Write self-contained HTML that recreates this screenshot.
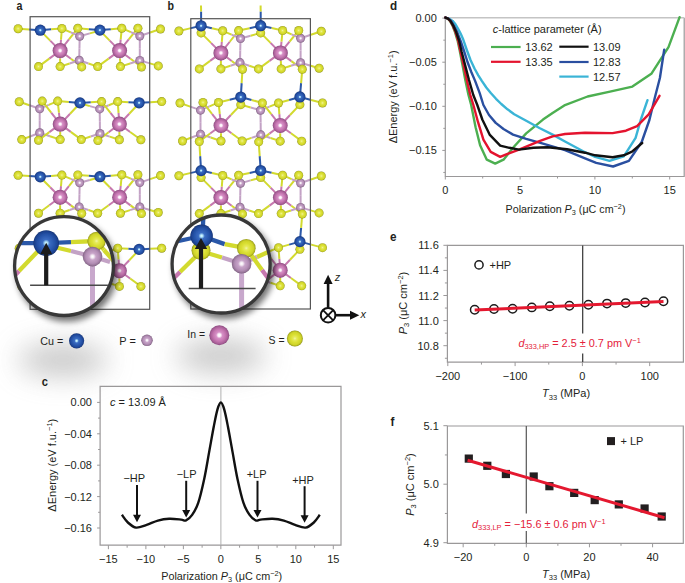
<!DOCTYPE html>
<html><head><meta charset="utf-8"><style>
html,body{margin:0;padding:0;background:#fff;}
svg{display:block;font-family:'Liberation Sans', sans-serif;}
</style></head><body>
<svg width="685" height="583" viewBox="0 0 685 583" font-family="'Liberation Sans', sans-serif" fill="#231f20">
<rect width="685" height="583" fill="#fff"/>
<defs>
<radialGradient id="gCu" cx="50%" cy="50%" r="50%" fx="50%" fy="50%"><stop offset="0" stop-color="#e4ffff"/><stop offset="0.1" stop-color="#b4e6fa"/><stop offset="0.28" stop-color="#3a6cc2"/><stop offset="0.7" stop-color="#2451a6"/><stop offset="0.9" stop-color="#1c4290"/><stop offset="1" stop-color="#153372"/></radialGradient>
<radialGradient id="gS" cx="50%" cy="50%" r="50%" fx="50%" fy="50%"><stop offset="0" stop-color="#f2f4a8"/><stop offset="0.2" stop-color="#e6ea5c"/><stop offset="0.5" stop-color="#dbe034"/><stop offset="0.78" stop-color="#cfd42a"/><stop offset="0.92" stop-color="#b0b420"/><stop offset="1" stop-color="#8a8e18"/></radialGradient>
<radialGradient id="gIn" cx="50%" cy="50%" r="50%" fx="50%" fy="50%"><stop offset="0" stop-color="#ffffff"/><stop offset="0.14" stop-color="#fdf3fa"/><stop offset="0.32" stop-color="#d690c6"/><stop offset="0.6" stop-color="#c677b1"/><stop offset="0.85" stop-color="#a95f98"/><stop offset="1" stop-color="#8a4a7e"/></radialGradient>
<radialGradient id="gP" cx="50%" cy="50%" r="50%" fx="50%" fy="50%"><stop offset="0" stop-color="#ffffff"/><stop offset="0.15" stop-color="#f4ecf4"/><stop offset="0.35" stop-color="#c8a4c9"/><stop offset="0.7" stop-color="#b38eb5"/><stop offset="0.9" stop-color="#977599"/><stop offset="1" stop-color="#7a5d7d"/></radialGradient>
<filter id="soft" x="-10%" y="-10%" width="120%" height="120%"><feGaussianBlur stdDeviation="0.45"/></filter>
<filter id="blur3" x="-50%" y="-50%" width="200%" height="200%"><feGaussianBlur stdDeviation="3"/></filter>
<filter id="blurBig" x="-100%" y="-100%" width="300%" height="300%"><feGaussianBlur stdDeviation="14"/></filter>
<clipPath id="clipA"><circle cx="64" cy="266.1" r="49.4"/></clipPath>
<clipPath id="clipB"><circle cx="221.1" cy="264" r="49"/></clipPath>
</defs>
<ellipse cx="63" cy="360" rx="45" ry="16" fill="#9a9a9a" opacity="0.55" filter="url(#blurBig)"/>
<ellipse cx="221" cy="356" rx="45" ry="16" fill="#9a9a9a" opacity="0.55" filter="url(#blurBig)"/>
<line x1="18.10" y1="28.70" x2="29.20" y2="29.45" stroke="#d2da2e" stroke-width="2.0" />
<line x1="29.20" y1="29.45" x2="40.30" y2="30.20" stroke="#2c58a8" stroke-width="2.0" />
<line x1="40.30" y1="30.20" x2="51.10" y2="29.35" stroke="#2c58a8" stroke-width="2.0" />
<line x1="51.10" y1="29.35" x2="61.90" y2="28.50" stroke="#d2da2e" stroke-width="2.0" />
<line x1="77.80" y1="28.30" x2="88.85" y2="29.20" stroke="#d2da2e" stroke-width="2.0" />
<line x1="88.85" y1="29.20" x2="99.90" y2="30.10" stroke="#2c58a8" stroke-width="2.0" />
<line x1="99.90" y1="30.10" x2="110.85" y2="29.15" stroke="#2c58a8" stroke-width="2.0" />
<line x1="110.85" y1="29.15" x2="121.80" y2="28.20" stroke="#d2da2e" stroke-width="2.0" />
<line x1="60.10" y1="50.60" x2="50.20" y2="40.60" stroke="#c678ae" stroke-width="2.0" />
<line x1="50.20" y1="40.60" x2="40.30" y2="30.60" stroke="#d2da2e" stroke-width="2.0" />
<line x1="60.10" y1="50.60" x2="61.00" y2="39.55" stroke="#c678ae" stroke-width="2.0" />
<line x1="61.00" y1="39.55" x2="61.90" y2="28.50" stroke="#d2da2e" stroke-width="2.0" />
<line x1="60.10" y1="50.60" x2="68.95" y2="39.45" stroke="#c678ae" stroke-width="2.0" />
<line x1="68.95" y1="39.45" x2="77.80" y2="28.30" stroke="#d2da2e" stroke-width="2.0" />
<line x1="60.10" y1="50.60" x2="49.30" y2="58.60" stroke="#c678ae" stroke-width="2.0" />
<line x1="49.30" y1="58.60" x2="38.50" y2="66.60" stroke="#d2da2e" stroke-width="2.0" />
<line x1="60.10" y1="50.60" x2="60.10" y2="58.60" stroke="#c678ae" stroke-width="2.0" />
<line x1="60.10" y1="58.60" x2="60.10" y2="66.60" stroke="#d2da2e" stroke-width="2.0" />
<line x1="60.10" y1="50.60" x2="70.90" y2="58.75" stroke="#c678ae" stroke-width="2.0" />
<line x1="70.90" y1="58.75" x2="81.70" y2="66.90" stroke="#d2da2e" stroke-width="2.0" />
<line x1="79.70" y1="36.20" x2="70.80" y2="32.35" stroke="#c3a2c5" stroke-width="2.0" />
<line x1="70.80" y1="32.35" x2="61.90" y2="28.50" stroke="#d2da2e" stroke-width="2.0" />
<line x1="79.70" y1="36.20" x2="78.75" y2="32.25" stroke="#c3a2c5" stroke-width="2.0" />
<line x1="78.75" y1="32.25" x2="77.80" y2="28.30" stroke="#d2da2e" stroke-width="2.0" />
<line x1="79.70" y1="36.20" x2="89.80" y2="33.40" stroke="#c3a2c5" stroke-width="2.0" />
<line x1="89.80" y1="33.40" x2="99.90" y2="30.60" stroke="#d2da2e" stroke-width="2.0" />
<line x1="79.70" y1="36.20" x2="79.45" y2="48.25" stroke="#c3a2c5" stroke-width="2.0" />
<line x1="79.45" y1="48.25" x2="79.20" y2="60.30" stroke="#c3a2c5" stroke-width="2.0" />
<line x1="79.20" y1="60.30" x2="69.65" y2="63.45" stroke="#c3a2c5" stroke-width="2.0" />
<line x1="69.65" y1="63.45" x2="60.10" y2="66.60" stroke="#d2da2e" stroke-width="2.0" />
<line x1="79.20" y1="60.30" x2="80.45" y2="63.60" stroke="#c3a2c5" stroke-width="2.0" />
<line x1="80.45" y1="63.60" x2="81.70" y2="66.90" stroke="#d2da2e" stroke-width="2.0" />
<line x1="79.20" y1="60.30" x2="88.45" y2="63.45" stroke="#c3a2c5" stroke-width="2.0" />
<line x1="88.45" y1="63.45" x2="97.70" y2="66.60" stroke="#d2da2e" stroke-width="2.0" />
<line x1="119.60" y1="50.60" x2="109.75" y2="40.60" stroke="#c678ae" stroke-width="2.0" />
<line x1="109.75" y1="40.60" x2="99.90" y2="30.60" stroke="#d2da2e" stroke-width="2.0" />
<line x1="119.60" y1="50.60" x2="120.70" y2="39.40" stroke="#c678ae" stroke-width="2.0" />
<line x1="120.70" y1="39.40" x2="121.80" y2="28.20" stroke="#d2da2e" stroke-width="2.0" />
<line x1="119.60" y1="50.60" x2="128.75" y2="39.40" stroke="#c678ae" stroke-width="2.0" />
<line x1="128.75" y1="39.40" x2="137.90" y2="28.20" stroke="#d2da2e" stroke-width="2.0" />
<line x1="119.60" y1="50.60" x2="108.65" y2="58.60" stroke="#c678ae" stroke-width="2.0" />
<line x1="108.65" y1="58.60" x2="97.70" y2="66.60" stroke="#d2da2e" stroke-width="2.0" />
<line x1="119.60" y1="50.60" x2="120.00" y2="58.60" stroke="#c678ae" stroke-width="2.0" />
<line x1="120.00" y1="58.60" x2="120.40" y2="66.60" stroke="#d2da2e" stroke-width="2.0" />
<line x1="119.60" y1="50.60" x2="130.55" y2="58.80" stroke="#c678ae" stroke-width="2.0" />
<line x1="130.55" y1="58.80" x2="141.50" y2="67.00" stroke="#d2da2e" stroke-width="2.0" />
<line x1="139.80" y1="36.00" x2="130.80" y2="32.10" stroke="#c3a2c5" stroke-width="2.0" />
<line x1="130.80" y1="32.10" x2="121.80" y2="28.20" stroke="#d2da2e" stroke-width="2.0" />
<line x1="139.80" y1="36.00" x2="138.85" y2="32.10" stroke="#c3a2c5" stroke-width="2.0" />
<line x1="138.85" y1="32.10" x2="137.90" y2="28.20" stroke="#d2da2e" stroke-width="2.0" />
<line x1="139.80" y1="36.00" x2="150.15" y2="32.50" stroke="#c3a2c5" stroke-width="2.0" />
<line x1="150.15" y1="32.50" x2="160.50" y2="29.00" stroke="#d2da2e" stroke-width="2.0" />
<line x1="139.80" y1="36.00" x2="139.80" y2="48.20" stroke="#c3a2c5" stroke-width="2.0" />
<line x1="139.80" y1="48.20" x2="139.80" y2="60.40" stroke="#c3a2c5" stroke-width="2.0" />
<line x1="139.80" y1="60.40" x2="130.10" y2="63.50" stroke="#c3a2c5" stroke-width="2.0" />
<line x1="130.10" y1="63.50" x2="120.40" y2="66.60" stroke="#d2da2e" stroke-width="2.0" />
<line x1="139.80" y1="60.40" x2="140.65" y2="63.70" stroke="#c3a2c5" stroke-width="2.0" />
<line x1="140.65" y1="63.70" x2="141.50" y2="67.00" stroke="#d2da2e" stroke-width="2.0" />
<line x1="139.80" y1="60.40" x2="149.05" y2="63.15" stroke="#c3a2c5" stroke-width="2.0" />
<line x1="149.05" y1="63.15" x2="158.30" y2="65.90" stroke="#d2da2e" stroke-width="2.0" />
<line x1="19.20" y1="101.70" x2="29.45" y2="105.25" stroke="#d2da2e" stroke-width="2.0" />
<line x1="29.45" y1="105.25" x2="39.70" y2="108.80" stroke="#c3a2c5" stroke-width="2.0" />
<line x1="39.70" y1="108.80" x2="40.95" y2="104.95" stroke="#c3a2c5" stroke-width="2.0" />
<line x1="40.95" y1="104.95" x2="42.20" y2="101.10" stroke="#d2da2e" stroke-width="2.0" />
<line x1="39.70" y1="108.80" x2="48.70" y2="104.95" stroke="#c3a2c5" stroke-width="2.0" />
<line x1="48.70" y1="104.95" x2="57.70" y2="101.10" stroke="#d2da2e" stroke-width="2.0" />
<line x1="39.70" y1="108.80" x2="39.70" y2="120.80" stroke="#c3a2c5" stroke-width="2.0" />
<line x1="39.70" y1="120.80" x2="39.70" y2="132.80" stroke="#c3a2c5" stroke-width="2.0" />
<line x1="39.70" y1="132.80" x2="30.70" y2="136.20" stroke="#c3a2c5" stroke-width="2.0" />
<line x1="30.70" y1="136.20" x2="21.70" y2="139.60" stroke="#d2da2e" stroke-width="2.0" />
<line x1="39.70" y1="132.80" x2="39.10" y2="136.50" stroke="#c3a2c5" stroke-width="2.0" />
<line x1="39.10" y1="136.50" x2="38.50" y2="140.20" stroke="#d2da2e" stroke-width="2.0" />
<line x1="39.70" y1="132.80" x2="49.95" y2="136.20" stroke="#c3a2c5" stroke-width="2.0" />
<line x1="49.95" y1="136.20" x2="60.20" y2="139.60" stroke="#d2da2e" stroke-width="2.0" />
<line x1="60.20" y1="124.10" x2="51.20" y2="112.60" stroke="#c678ae" stroke-width="2.0" />
<line x1="51.20" y1="112.60" x2="42.20" y2="101.10" stroke="#d2da2e" stroke-width="2.0" />
<line x1="60.20" y1="124.10" x2="58.95" y2="112.60" stroke="#c678ae" stroke-width="2.0" />
<line x1="58.95" y1="112.60" x2="57.70" y2="101.10" stroke="#d2da2e" stroke-width="2.0" />
<line x1="60.20" y1="124.10" x2="70.10" y2="113.70" stroke="#c678ae" stroke-width="2.0" />
<line x1="70.10" y1="113.70" x2="80.00" y2="103.30" stroke="#d2da2e" stroke-width="2.0" />
<line x1="60.20" y1="124.10" x2="49.35" y2="132.15" stroke="#c678ae" stroke-width="2.0" />
<line x1="49.35" y1="132.15" x2="38.50" y2="140.20" stroke="#d2da2e" stroke-width="2.0" />
<line x1="60.20" y1="124.10" x2="60.20" y2="131.85" stroke="#c678ae" stroke-width="2.0" />
<line x1="60.20" y1="131.85" x2="60.20" y2="139.60" stroke="#d2da2e" stroke-width="2.0" />
<line x1="60.20" y1="124.10" x2="70.75" y2="131.85" stroke="#c678ae" stroke-width="2.0" />
<line x1="70.75" y1="131.85" x2="81.30" y2="139.60" stroke="#d2da2e" stroke-width="2.0" />
<line x1="57.70" y1="101.10" x2="68.85" y2="102.00" stroke="#d2da2e" stroke-width="2.0" />
<line x1="68.85" y1="102.00" x2="80.00" y2="102.90" stroke="#2c58a8" stroke-width="2.0" />
<line x1="80.00" y1="102.90" x2="90.80" y2="102.25" stroke="#2c58a8" stroke-width="2.0" />
<line x1="90.80" y1="102.25" x2="101.60" y2="101.60" stroke="#d2da2e" stroke-width="2.0" />
<line x1="99.70" y1="108.90" x2="89.85" y2="106.10" stroke="#c3a2c5" stroke-width="2.0" />
<line x1="89.85" y1="106.10" x2="80.00" y2="103.30" stroke="#d2da2e" stroke-width="2.0" />
<line x1="99.70" y1="108.90" x2="100.65" y2="105.25" stroke="#c3a2c5" stroke-width="2.0" />
<line x1="100.65" y1="105.25" x2="101.60" y2="101.60" stroke="#d2da2e" stroke-width="2.0" />
<line x1="99.70" y1="108.90" x2="108.70" y2="105.25" stroke="#c3a2c5" stroke-width="2.0" />
<line x1="108.70" y1="105.25" x2="117.70" y2="101.60" stroke="#d2da2e" stroke-width="2.0" />
<line x1="99.70" y1="108.90" x2="99.85" y2="121.20" stroke="#c3a2c5" stroke-width="2.0" />
<line x1="99.85" y1="121.20" x2="100.00" y2="133.50" stroke="#c3a2c5" stroke-width="2.0" />
<line x1="100.00" y1="133.50" x2="90.65" y2="136.55" stroke="#c3a2c5" stroke-width="2.0" />
<line x1="90.65" y1="136.55" x2="81.30" y2="139.60" stroke="#d2da2e" stroke-width="2.0" />
<line x1="100.00" y1="133.50" x2="98.95" y2="137.00" stroke="#c3a2c5" stroke-width="2.0" />
<line x1="98.95" y1="137.00" x2="97.90" y2="140.50" stroke="#d2da2e" stroke-width="2.0" />
<line x1="100.00" y1="133.50" x2="109.70" y2="136.65" stroke="#c3a2c5" stroke-width="2.0" />
<line x1="109.70" y1="136.65" x2="119.40" y2="139.80" stroke="#d2da2e" stroke-width="2.0" />
<line x1="119.40" y1="124.10" x2="110.50" y2="112.85" stroke="#c678ae" stroke-width="2.0" />
<line x1="110.50" y1="112.85" x2="101.60" y2="101.60" stroke="#d2da2e" stroke-width="2.0" />
<line x1="119.40" y1="124.10" x2="118.55" y2="112.85" stroke="#c678ae" stroke-width="2.0" />
<line x1="118.55" y1="112.85" x2="117.70" y2="101.60" stroke="#d2da2e" stroke-width="2.0" />
<line x1="119.40" y1="124.10" x2="129.25" y2="113.70" stroke="#c678ae" stroke-width="2.0" />
<line x1="129.25" y1="113.70" x2="139.10" y2="103.30" stroke="#d2da2e" stroke-width="2.0" />
<line x1="119.40" y1="124.10" x2="108.65" y2="132.30" stroke="#c678ae" stroke-width="2.0" />
<line x1="108.65" y1="132.30" x2="97.90" y2="140.50" stroke="#d2da2e" stroke-width="2.0" />
<line x1="119.40" y1="124.10" x2="119.40" y2="131.95" stroke="#c678ae" stroke-width="2.0" />
<line x1="119.40" y1="131.95" x2="119.40" y2="139.80" stroke="#d2da2e" stroke-width="2.0" />
<line x1="119.40" y1="124.10" x2="130.15" y2="131.95" stroke="#c678ae" stroke-width="2.0" />
<line x1="130.15" y1="131.95" x2="140.90" y2="139.80" stroke="#d2da2e" stroke-width="2.0" />
<line x1="117.70" y1="101.60" x2="128.40" y2="102.20" stroke="#d2da2e" stroke-width="2.0" />
<line x1="128.40" y1="102.20" x2="139.10" y2="102.80" stroke="#2c58a8" stroke-width="2.0" />
<line x1="139.10" y1="102.80" x2="150.40" y2="102.20" stroke="#2c58a8" stroke-width="2.0" />
<line x1="150.40" y1="102.20" x2="161.70" y2="101.60" stroke="#d2da2e" stroke-width="2.0" />
<line x1="18.10" y1="175.30" x2="29.20" y2="176.05" stroke="#d2da2e" stroke-width="2.0" />
<line x1="29.20" y1="176.05" x2="40.30" y2="176.80" stroke="#2c58a8" stroke-width="2.0" />
<line x1="40.30" y1="176.80" x2="51.10" y2="175.95" stroke="#2c58a8" stroke-width="2.0" />
<line x1="51.10" y1="175.95" x2="61.90" y2="175.10" stroke="#d2da2e" stroke-width="2.0" />
<line x1="77.80" y1="174.90" x2="88.85" y2="175.80" stroke="#d2da2e" stroke-width="2.0" />
<line x1="88.85" y1="175.80" x2="99.90" y2="176.70" stroke="#2c58a8" stroke-width="2.0" />
<line x1="99.90" y1="176.70" x2="110.85" y2="175.75" stroke="#2c58a8" stroke-width="2.0" />
<line x1="110.85" y1="175.75" x2="121.80" y2="174.80" stroke="#d2da2e" stroke-width="2.0" />
<line x1="60.10" y1="197.20" x2="50.20" y2="187.20" stroke="#c678ae" stroke-width="2.0" />
<line x1="50.20" y1="187.20" x2="40.30" y2="177.20" stroke="#d2da2e" stroke-width="2.0" />
<line x1="60.10" y1="197.20" x2="61.00" y2="186.15" stroke="#c678ae" stroke-width="2.0" />
<line x1="61.00" y1="186.15" x2="61.90" y2="175.10" stroke="#d2da2e" stroke-width="2.0" />
<line x1="60.10" y1="197.20" x2="68.95" y2="186.05" stroke="#c678ae" stroke-width="2.0" />
<line x1="68.95" y1="186.05" x2="77.80" y2="174.90" stroke="#d2da2e" stroke-width="2.0" />
<line x1="60.10" y1="197.20" x2="49.30" y2="205.20" stroke="#c678ae" stroke-width="2.0" />
<line x1="49.30" y1="205.20" x2="38.50" y2="213.20" stroke="#d2da2e" stroke-width="2.0" />
<line x1="60.10" y1="197.20" x2="60.10" y2="205.20" stroke="#c678ae" stroke-width="2.0" />
<line x1="60.10" y1="205.20" x2="60.10" y2="213.20" stroke="#d2da2e" stroke-width="2.0" />
<line x1="60.10" y1="197.20" x2="70.90" y2="205.35" stroke="#c678ae" stroke-width="2.0" />
<line x1="70.90" y1="205.35" x2="81.70" y2="213.50" stroke="#d2da2e" stroke-width="2.0" />
<line x1="79.70" y1="182.80" x2="70.80" y2="178.95" stroke="#c3a2c5" stroke-width="2.0" />
<line x1="70.80" y1="178.95" x2="61.90" y2="175.10" stroke="#d2da2e" stroke-width="2.0" />
<line x1="79.70" y1="182.80" x2="78.75" y2="178.85" stroke="#c3a2c5" stroke-width="2.0" />
<line x1="78.75" y1="178.85" x2="77.80" y2="174.90" stroke="#d2da2e" stroke-width="2.0" />
<line x1="79.70" y1="182.80" x2="89.80" y2="180.00" stroke="#c3a2c5" stroke-width="2.0" />
<line x1="89.80" y1="180.00" x2="99.90" y2="177.20" stroke="#d2da2e" stroke-width="2.0" />
<line x1="79.70" y1="182.80" x2="79.45" y2="194.85" stroke="#c3a2c5" stroke-width="2.0" />
<line x1="79.45" y1="194.85" x2="79.20" y2="206.90" stroke="#c3a2c5" stroke-width="2.0" />
<line x1="79.20" y1="206.90" x2="69.65" y2="210.05" stroke="#c3a2c5" stroke-width="2.0" />
<line x1="69.65" y1="210.05" x2="60.10" y2="213.20" stroke="#d2da2e" stroke-width="2.0" />
<line x1="79.20" y1="206.90" x2="80.45" y2="210.20" stroke="#c3a2c5" stroke-width="2.0" />
<line x1="80.45" y1="210.20" x2="81.70" y2="213.50" stroke="#d2da2e" stroke-width="2.0" />
<line x1="79.20" y1="206.90" x2="88.45" y2="210.05" stroke="#c3a2c5" stroke-width="2.0" />
<line x1="88.45" y1="210.05" x2="97.70" y2="213.20" stroke="#d2da2e" stroke-width="2.0" />
<line x1="119.60" y1="197.20" x2="109.75" y2="187.20" stroke="#c678ae" stroke-width="2.0" />
<line x1="109.75" y1="187.20" x2="99.90" y2="177.20" stroke="#d2da2e" stroke-width="2.0" />
<line x1="119.60" y1="197.20" x2="120.70" y2="186.00" stroke="#c678ae" stroke-width="2.0" />
<line x1="120.70" y1="186.00" x2="121.80" y2="174.80" stroke="#d2da2e" stroke-width="2.0" />
<line x1="119.60" y1="197.20" x2="128.75" y2="186.00" stroke="#c678ae" stroke-width="2.0" />
<line x1="128.75" y1="186.00" x2="137.90" y2="174.80" stroke="#d2da2e" stroke-width="2.0" />
<line x1="119.60" y1="197.20" x2="108.65" y2="205.20" stroke="#c678ae" stroke-width="2.0" />
<line x1="108.65" y1="205.20" x2="97.70" y2="213.20" stroke="#d2da2e" stroke-width="2.0" />
<line x1="119.60" y1="197.20" x2="120.00" y2="205.20" stroke="#c678ae" stroke-width="2.0" />
<line x1="120.00" y1="205.20" x2="120.40" y2="213.20" stroke="#d2da2e" stroke-width="2.0" />
<line x1="119.60" y1="197.20" x2="130.55" y2="205.40" stroke="#c678ae" stroke-width="2.0" />
<line x1="130.55" y1="205.40" x2="141.50" y2="213.60" stroke="#d2da2e" stroke-width="2.0" />
<line x1="139.80" y1="182.60" x2="130.80" y2="178.70" stroke="#c3a2c5" stroke-width="2.0" />
<line x1="130.80" y1="178.70" x2="121.80" y2="174.80" stroke="#d2da2e" stroke-width="2.0" />
<line x1="139.80" y1="182.60" x2="138.85" y2="178.70" stroke="#c3a2c5" stroke-width="2.0" />
<line x1="138.85" y1="178.70" x2="137.90" y2="174.80" stroke="#d2da2e" stroke-width="2.0" />
<line x1="139.80" y1="182.60" x2="150.15" y2="179.10" stroke="#c3a2c5" stroke-width="2.0" />
<line x1="150.15" y1="179.10" x2="160.50" y2="175.60" stroke="#d2da2e" stroke-width="2.0" />
<line x1="139.80" y1="182.60" x2="139.80" y2="194.80" stroke="#c3a2c5" stroke-width="2.0" />
<line x1="139.80" y1="194.80" x2="139.80" y2="207.00" stroke="#c3a2c5" stroke-width="2.0" />
<line x1="139.80" y1="207.00" x2="130.10" y2="210.10" stroke="#c3a2c5" stroke-width="2.0" />
<line x1="130.10" y1="210.10" x2="120.40" y2="213.20" stroke="#d2da2e" stroke-width="2.0" />
<line x1="139.80" y1="207.00" x2="140.65" y2="210.30" stroke="#c3a2c5" stroke-width="2.0" />
<line x1="140.65" y1="210.30" x2="141.50" y2="213.60" stroke="#d2da2e" stroke-width="2.0" />
<line x1="139.80" y1="207.00" x2="149.05" y2="209.75" stroke="#c3a2c5" stroke-width="2.0" />
<line x1="149.05" y1="209.75" x2="158.30" y2="212.50" stroke="#d2da2e" stroke-width="2.0" />
<line x1="19.20" y1="248.30" x2="29.45" y2="251.85" stroke="#d2da2e" stroke-width="2.0" />
<line x1="29.45" y1="251.85" x2="39.70" y2="255.40" stroke="#c3a2c5" stroke-width="2.0" />
<line x1="39.70" y1="255.40" x2="40.95" y2="251.55" stroke="#c3a2c5" stroke-width="2.0" />
<line x1="40.95" y1="251.55" x2="42.20" y2="247.70" stroke="#d2da2e" stroke-width="2.0" />
<line x1="39.70" y1="255.40" x2="48.70" y2="251.55" stroke="#c3a2c5" stroke-width="2.0" />
<line x1="48.70" y1="251.55" x2="57.70" y2="247.70" stroke="#d2da2e" stroke-width="2.0" />
<line x1="39.70" y1="255.40" x2="39.70" y2="267.40" stroke="#c3a2c5" stroke-width="2.0" />
<line x1="39.70" y1="267.40" x2="39.70" y2="279.40" stroke="#c3a2c5" stroke-width="2.0" />
<line x1="39.70" y1="279.40" x2="30.70" y2="282.80" stroke="#c3a2c5" stroke-width="2.0" />
<line x1="30.70" y1="282.80" x2="21.70" y2="286.20" stroke="#d2da2e" stroke-width="2.0" />
<line x1="39.70" y1="279.40" x2="39.10" y2="283.10" stroke="#c3a2c5" stroke-width="2.0" />
<line x1="39.10" y1="283.10" x2="38.50" y2="286.80" stroke="#d2da2e" stroke-width="2.0" />
<line x1="39.70" y1="279.40" x2="49.95" y2="282.80" stroke="#c3a2c5" stroke-width="2.0" />
<line x1="49.95" y1="282.80" x2="60.20" y2="286.20" stroke="#d2da2e" stroke-width="2.0" />
<line x1="60.20" y1="270.70" x2="51.20" y2="259.20" stroke="#c678ae" stroke-width="2.0" />
<line x1="51.20" y1="259.20" x2="42.20" y2="247.70" stroke="#d2da2e" stroke-width="2.0" />
<line x1="60.20" y1="270.70" x2="58.95" y2="259.20" stroke="#c678ae" stroke-width="2.0" />
<line x1="58.95" y1="259.20" x2="57.70" y2="247.70" stroke="#d2da2e" stroke-width="2.0" />
<line x1="60.20" y1="270.70" x2="70.10" y2="260.30" stroke="#c678ae" stroke-width="2.0" />
<line x1="70.10" y1="260.30" x2="80.00" y2="249.90" stroke="#d2da2e" stroke-width="2.0" />
<line x1="60.20" y1="270.70" x2="49.35" y2="278.75" stroke="#c678ae" stroke-width="2.0" />
<line x1="49.35" y1="278.75" x2="38.50" y2="286.80" stroke="#d2da2e" stroke-width="2.0" />
<line x1="60.20" y1="270.70" x2="60.20" y2="278.45" stroke="#c678ae" stroke-width="2.0" />
<line x1="60.20" y1="278.45" x2="60.20" y2="286.20" stroke="#d2da2e" stroke-width="2.0" />
<line x1="60.20" y1="270.70" x2="70.75" y2="278.45" stroke="#c678ae" stroke-width="2.0" />
<line x1="70.75" y1="278.45" x2="81.30" y2="286.20" stroke="#d2da2e" stroke-width="2.0" />
<line x1="57.70" y1="247.70" x2="68.85" y2="248.60" stroke="#d2da2e" stroke-width="2.0" />
<line x1="68.85" y1="248.60" x2="80.00" y2="249.50" stroke="#2c58a8" stroke-width="2.0" />
<line x1="80.00" y1="249.50" x2="90.80" y2="248.85" stroke="#2c58a8" stroke-width="2.0" />
<line x1="90.80" y1="248.85" x2="101.60" y2="248.20" stroke="#d2da2e" stroke-width="2.0" />
<line x1="99.70" y1="255.50" x2="89.85" y2="252.70" stroke="#c3a2c5" stroke-width="2.0" />
<line x1="89.85" y1="252.70" x2="80.00" y2="249.90" stroke="#d2da2e" stroke-width="2.0" />
<line x1="99.70" y1="255.50" x2="100.65" y2="251.85" stroke="#c3a2c5" stroke-width="2.0" />
<line x1="100.65" y1="251.85" x2="101.60" y2="248.20" stroke="#d2da2e" stroke-width="2.0" />
<line x1="99.70" y1="255.50" x2="108.70" y2="251.85" stroke="#c3a2c5" stroke-width="2.0" />
<line x1="108.70" y1="251.85" x2="117.70" y2="248.20" stroke="#d2da2e" stroke-width="2.0" />
<line x1="99.70" y1="255.50" x2="99.85" y2="267.80" stroke="#c3a2c5" stroke-width="2.0" />
<line x1="99.85" y1="267.80" x2="100.00" y2="280.10" stroke="#c3a2c5" stroke-width="2.0" />
<line x1="100.00" y1="280.10" x2="90.65" y2="283.15" stroke="#c3a2c5" stroke-width="2.0" />
<line x1="90.65" y1="283.15" x2="81.30" y2="286.20" stroke="#d2da2e" stroke-width="2.0" />
<line x1="100.00" y1="280.10" x2="98.95" y2="283.60" stroke="#c3a2c5" stroke-width="2.0" />
<line x1="98.95" y1="283.60" x2="97.90" y2="287.10" stroke="#d2da2e" stroke-width="2.0" />
<line x1="100.00" y1="280.10" x2="109.70" y2="283.25" stroke="#c3a2c5" stroke-width="2.0" />
<line x1="109.70" y1="283.25" x2="119.40" y2="286.40" stroke="#d2da2e" stroke-width="2.0" />
<line x1="119.40" y1="270.70" x2="110.50" y2="259.45" stroke="#c678ae" stroke-width="2.0" />
<line x1="110.50" y1="259.45" x2="101.60" y2="248.20" stroke="#d2da2e" stroke-width="2.0" />
<line x1="119.40" y1="270.70" x2="118.55" y2="259.45" stroke="#c678ae" stroke-width="2.0" />
<line x1="118.55" y1="259.45" x2="117.70" y2="248.20" stroke="#d2da2e" stroke-width="2.0" />
<line x1="119.40" y1="270.70" x2="129.25" y2="260.30" stroke="#c678ae" stroke-width="2.0" />
<line x1="129.25" y1="260.30" x2="139.10" y2="249.90" stroke="#d2da2e" stroke-width="2.0" />
<line x1="119.40" y1="270.70" x2="108.65" y2="278.90" stroke="#c678ae" stroke-width="2.0" />
<line x1="108.65" y1="278.90" x2="97.90" y2="287.10" stroke="#d2da2e" stroke-width="2.0" />
<line x1="119.40" y1="270.70" x2="119.40" y2="278.55" stroke="#c678ae" stroke-width="2.0" />
<line x1="119.40" y1="278.55" x2="119.40" y2="286.40" stroke="#d2da2e" stroke-width="2.0" />
<line x1="119.40" y1="270.70" x2="130.15" y2="278.55" stroke="#c678ae" stroke-width="2.0" />
<line x1="130.15" y1="278.55" x2="140.90" y2="286.40" stroke="#d2da2e" stroke-width="2.0" />
<line x1="117.70" y1="248.20" x2="128.40" y2="248.80" stroke="#d2da2e" stroke-width="2.0" />
<line x1="128.40" y1="248.80" x2="139.10" y2="249.40" stroke="#2c58a8" stroke-width="2.0" />
<line x1="139.10" y1="249.40" x2="150.40" y2="248.80" stroke="#2c58a8" stroke-width="2.0" />
<line x1="150.40" y1="248.80" x2="161.70" y2="248.20" stroke="#d2da2e" stroke-width="2.0" />
<circle cx="79.70" cy="36.20" r="4.50" fill="url(#gP)"/>
<circle cx="139.80" cy="36.00" r="4.50" fill="url(#gP)"/>
<circle cx="79.20" cy="60.30" r="4.50" fill="url(#gP)"/>
<circle cx="139.80" cy="60.40" r="4.50" fill="url(#gP)"/>
<circle cx="40.30" cy="30.60" r="4.50" fill="url(#gS)"/>
<circle cx="99.90" cy="30.60" r="4.50" fill="url(#gS)"/>
<circle cx="18.10" cy="28.70" r="4.50" fill="url(#gS)"/>
<circle cx="61.90" cy="28.50" r="4.50" fill="url(#gS)"/>
<circle cx="77.80" cy="28.30" r="4.50" fill="url(#gS)"/>
<circle cx="121.80" cy="28.20" r="4.50" fill="url(#gS)"/>
<circle cx="137.90" cy="28.20" r="4.50" fill="url(#gS)"/>
<circle cx="160.50" cy="29.00" r="4.50" fill="url(#gS)"/>
<circle cx="38.50" cy="66.60" r="4.50" fill="url(#gS)"/>
<circle cx="60.10" cy="66.60" r="4.50" fill="url(#gS)"/>
<circle cx="81.70" cy="66.90" r="4.50" fill="url(#gS)"/>
<circle cx="97.70" cy="66.60" r="4.50" fill="url(#gS)"/>
<circle cx="120.40" cy="66.60" r="4.50" fill="url(#gS)"/>
<circle cx="141.50" cy="67.00" r="4.50" fill="url(#gS)"/>
<circle cx="158.30" cy="65.90" r="4.50" fill="url(#gS)"/>
<circle cx="60.10" cy="50.60" r="7.50" fill="url(#gIn)"/>
<circle cx="119.60" cy="50.60" r="7.50" fill="url(#gIn)"/>
<circle cx="40.30" cy="30.20" r="5.60" fill="url(#gCu)"/>
<circle cx="99.90" cy="30.10" r="5.60" fill="url(#gCu)"/>
<circle cx="39.70" cy="108.80" r="4.50" fill="url(#gP)"/>
<circle cx="99.70" cy="108.90" r="4.50" fill="url(#gP)"/>
<circle cx="39.70" cy="132.80" r="4.50" fill="url(#gP)"/>
<circle cx="100.00" cy="133.50" r="4.50" fill="url(#gP)"/>
<circle cx="80.00" cy="103.30" r="4.50" fill="url(#gS)"/>
<circle cx="139.10" cy="103.30" r="4.50" fill="url(#gS)"/>
<circle cx="19.20" cy="101.70" r="4.50" fill="url(#gS)"/>
<circle cx="42.20" cy="101.10" r="4.50" fill="url(#gS)"/>
<circle cx="57.70" cy="101.10" r="4.50" fill="url(#gS)"/>
<circle cx="101.60" cy="101.60" r="4.50" fill="url(#gS)"/>
<circle cx="117.70" cy="101.60" r="4.50" fill="url(#gS)"/>
<circle cx="161.70" cy="101.60" r="4.50" fill="url(#gS)"/>
<circle cx="21.70" cy="139.60" r="4.50" fill="url(#gS)"/>
<circle cx="38.50" cy="140.20" r="4.50" fill="url(#gS)"/>
<circle cx="60.20" cy="139.60" r="4.50" fill="url(#gS)"/>
<circle cx="81.30" cy="139.60" r="4.50" fill="url(#gS)"/>
<circle cx="97.90" cy="140.50" r="4.50" fill="url(#gS)"/>
<circle cx="119.40" cy="139.80" r="4.50" fill="url(#gS)"/>
<circle cx="140.90" cy="139.80" r="4.50" fill="url(#gS)"/>
<circle cx="60.20" cy="124.10" r="7.50" fill="url(#gIn)"/>
<circle cx="119.40" cy="124.10" r="7.50" fill="url(#gIn)"/>
<circle cx="80.00" cy="102.90" r="5.60" fill="url(#gCu)"/>
<circle cx="139.10" cy="102.80" r="5.60" fill="url(#gCu)"/>
<circle cx="79.70" cy="182.80" r="4.50" fill="url(#gP)"/>
<circle cx="139.80" cy="182.60" r="4.50" fill="url(#gP)"/>
<circle cx="79.20" cy="206.90" r="4.50" fill="url(#gP)"/>
<circle cx="139.80" cy="207.00" r="4.50" fill="url(#gP)"/>
<circle cx="40.30" cy="177.20" r="4.50" fill="url(#gS)"/>
<circle cx="99.90" cy="177.20" r="4.50" fill="url(#gS)"/>
<circle cx="18.10" cy="175.30" r="4.50" fill="url(#gS)"/>
<circle cx="61.90" cy="175.10" r="4.50" fill="url(#gS)"/>
<circle cx="77.80" cy="174.90" r="4.50" fill="url(#gS)"/>
<circle cx="121.80" cy="174.80" r="4.50" fill="url(#gS)"/>
<circle cx="137.90" cy="174.80" r="4.50" fill="url(#gS)"/>
<circle cx="160.50" cy="175.60" r="4.50" fill="url(#gS)"/>
<circle cx="38.50" cy="213.20" r="4.50" fill="url(#gS)"/>
<circle cx="60.10" cy="213.20" r="4.50" fill="url(#gS)"/>
<circle cx="81.70" cy="213.50" r="4.50" fill="url(#gS)"/>
<circle cx="97.70" cy="213.20" r="4.50" fill="url(#gS)"/>
<circle cx="120.40" cy="213.20" r="4.50" fill="url(#gS)"/>
<circle cx="141.50" cy="213.60" r="4.50" fill="url(#gS)"/>
<circle cx="158.30" cy="212.50" r="4.50" fill="url(#gS)"/>
<circle cx="60.10" cy="197.20" r="7.50" fill="url(#gIn)"/>
<circle cx="119.60" cy="197.20" r="7.50" fill="url(#gIn)"/>
<circle cx="40.30" cy="176.80" r="5.60" fill="url(#gCu)"/>
<circle cx="99.90" cy="176.70" r="5.60" fill="url(#gCu)"/>
<circle cx="39.70" cy="255.40" r="4.50" fill="url(#gP)"/>
<circle cx="99.70" cy="255.50" r="4.50" fill="url(#gP)"/>
<circle cx="39.70" cy="279.40" r="4.50" fill="url(#gP)"/>
<circle cx="100.00" cy="280.10" r="4.50" fill="url(#gP)"/>
<circle cx="80.00" cy="249.90" r="4.50" fill="url(#gS)"/>
<circle cx="139.10" cy="249.90" r="4.50" fill="url(#gS)"/>
<circle cx="19.20" cy="248.30" r="4.50" fill="url(#gS)"/>
<circle cx="42.20" cy="247.70" r="4.50" fill="url(#gS)"/>
<circle cx="57.70" cy="247.70" r="4.50" fill="url(#gS)"/>
<circle cx="101.60" cy="248.20" r="4.50" fill="url(#gS)"/>
<circle cx="117.70" cy="248.20" r="4.50" fill="url(#gS)"/>
<circle cx="161.70" cy="248.20" r="4.50" fill="url(#gS)"/>
<circle cx="21.70" cy="286.20" r="4.50" fill="url(#gS)"/>
<circle cx="38.50" cy="286.80" r="4.50" fill="url(#gS)"/>
<circle cx="60.20" cy="286.20" r="4.50" fill="url(#gS)"/>
<circle cx="81.30" cy="286.20" r="4.50" fill="url(#gS)"/>
<circle cx="97.90" cy="287.10" r="4.50" fill="url(#gS)"/>
<circle cx="119.40" cy="286.40" r="4.50" fill="url(#gS)"/>
<circle cx="140.90" cy="286.40" r="4.50" fill="url(#gS)"/>
<circle cx="60.20" cy="270.70" r="7.50" fill="url(#gIn)"/>
<circle cx="119.40" cy="270.70" r="7.50" fill="url(#gIn)"/>
<circle cx="80.00" cy="249.50" r="5.60" fill="url(#gCu)"/>
<circle cx="139.10" cy="249.40" r="5.60" fill="url(#gCu)"/>
<rect x="30.1" y="16.7" width="119.6" height="292.6" fill="none" stroke="#555" stroke-width="1.2"/>
<line x1="178.90" y1="31.00" x2="190.00" y2="28.40" stroke="#d2da2e" stroke-width="2.0" />
<line x1="190.00" y1="28.40" x2="201.10" y2="25.80" stroke="#2c58a8" stroke-width="2.0" />
<line x1="201.10" y1="25.80" x2="211.90" y2="28.30" stroke="#2c58a8" stroke-width="2.0" />
<line x1="211.90" y1="28.30" x2="222.70" y2="30.80" stroke="#d2da2e" stroke-width="2.0" />
<line x1="238.60" y1="30.60" x2="249.65" y2="28.15" stroke="#d2da2e" stroke-width="2.0" />
<line x1="249.65" y1="28.15" x2="260.70" y2="25.70" stroke="#2c58a8" stroke-width="2.0" />
<line x1="260.70" y1="25.70" x2="271.65" y2="28.10" stroke="#2c58a8" stroke-width="2.0" />
<line x1="271.65" y1="28.10" x2="282.60" y2="30.50" stroke="#d2da2e" stroke-width="2.0" />
<line x1="220.90" y1="52.90" x2="211.00" y2="42.90" stroke="#c678ae" stroke-width="2.0" />
<line x1="211.00" y1="42.90" x2="201.10" y2="32.90" stroke="#d2da2e" stroke-width="2.0" />
<line x1="220.90" y1="52.90" x2="221.80" y2="41.85" stroke="#c678ae" stroke-width="2.0" />
<line x1="221.80" y1="41.85" x2="222.70" y2="30.80" stroke="#d2da2e" stroke-width="2.0" />
<line x1="220.90" y1="52.90" x2="229.75" y2="41.75" stroke="#c678ae" stroke-width="2.0" />
<line x1="229.75" y1="41.75" x2="238.60" y2="30.60" stroke="#d2da2e" stroke-width="2.0" />
<line x1="220.90" y1="52.90" x2="210.10" y2="60.90" stroke="#c678ae" stroke-width="2.0" />
<line x1="210.10" y1="60.90" x2="199.30" y2="68.90" stroke="#d2da2e" stroke-width="2.0" />
<line x1="220.90" y1="52.90" x2="220.90" y2="60.90" stroke="#c678ae" stroke-width="2.0" />
<line x1="220.90" y1="60.90" x2="220.90" y2="68.90" stroke="#d2da2e" stroke-width="2.0" />
<line x1="220.90" y1="52.90" x2="231.70" y2="61.05" stroke="#c678ae" stroke-width="2.0" />
<line x1="231.70" y1="61.05" x2="242.50" y2="69.20" stroke="#d2da2e" stroke-width="2.0" />
<line x1="240.50" y1="38.50" x2="231.60" y2="34.65" stroke="#c3a2c5" stroke-width="2.0" />
<line x1="231.60" y1="34.65" x2="222.70" y2="30.80" stroke="#d2da2e" stroke-width="2.0" />
<line x1="240.50" y1="38.50" x2="239.55" y2="34.55" stroke="#c3a2c5" stroke-width="2.0" />
<line x1="239.55" y1="34.55" x2="238.60" y2="30.60" stroke="#d2da2e" stroke-width="2.0" />
<line x1="240.50" y1="38.50" x2="250.60" y2="35.70" stroke="#c3a2c5" stroke-width="2.0" />
<line x1="250.60" y1="35.70" x2="260.70" y2="32.90" stroke="#d2da2e" stroke-width="2.0" />
<line x1="240.50" y1="38.50" x2="240.25" y2="50.55" stroke="#c3a2c5" stroke-width="2.0" />
<line x1="240.25" y1="50.55" x2="240.00" y2="62.60" stroke="#c3a2c5" stroke-width="2.0" />
<line x1="240.00" y1="62.60" x2="230.45" y2="65.75" stroke="#c3a2c5" stroke-width="2.0" />
<line x1="230.45" y1="65.75" x2="220.90" y2="68.90" stroke="#d2da2e" stroke-width="2.0" />
<line x1="240.00" y1="62.60" x2="241.25" y2="65.90" stroke="#c3a2c5" stroke-width="2.0" />
<line x1="241.25" y1="65.90" x2="242.50" y2="69.20" stroke="#d2da2e" stroke-width="2.0" />
<line x1="240.00" y1="62.60" x2="249.25" y2="65.75" stroke="#c3a2c5" stroke-width="2.0" />
<line x1="249.25" y1="65.75" x2="258.50" y2="68.90" stroke="#d2da2e" stroke-width="2.0" />
<line x1="280.40" y1="52.90" x2="270.55" y2="42.90" stroke="#c678ae" stroke-width="2.0" />
<line x1="270.55" y1="42.90" x2="260.70" y2="32.90" stroke="#d2da2e" stroke-width="2.0" />
<line x1="280.40" y1="52.90" x2="281.50" y2="41.70" stroke="#c678ae" stroke-width="2.0" />
<line x1="281.50" y1="41.70" x2="282.60" y2="30.50" stroke="#d2da2e" stroke-width="2.0" />
<line x1="280.40" y1="52.90" x2="289.55" y2="41.70" stroke="#c678ae" stroke-width="2.0" />
<line x1="289.55" y1="41.70" x2="298.70" y2="30.50" stroke="#d2da2e" stroke-width="2.0" />
<line x1="280.40" y1="52.90" x2="269.45" y2="60.90" stroke="#c678ae" stroke-width="2.0" />
<line x1="269.45" y1="60.90" x2="258.50" y2="68.90" stroke="#d2da2e" stroke-width="2.0" />
<line x1="280.40" y1="52.90" x2="280.80" y2="60.90" stroke="#c678ae" stroke-width="2.0" />
<line x1="280.80" y1="60.90" x2="281.20" y2="68.90" stroke="#d2da2e" stroke-width="2.0" />
<line x1="280.40" y1="52.90" x2="291.35" y2="61.10" stroke="#c678ae" stroke-width="2.0" />
<line x1="291.35" y1="61.10" x2="302.30" y2="69.30" stroke="#d2da2e" stroke-width="2.0" />
<line x1="300.60" y1="38.30" x2="291.60" y2="34.40" stroke="#c3a2c5" stroke-width="2.0" />
<line x1="291.60" y1="34.40" x2="282.60" y2="30.50" stroke="#d2da2e" stroke-width="2.0" />
<line x1="300.60" y1="38.30" x2="299.65" y2="34.40" stroke="#c3a2c5" stroke-width="2.0" />
<line x1="299.65" y1="34.40" x2="298.70" y2="30.50" stroke="#d2da2e" stroke-width="2.0" />
<line x1="300.60" y1="38.30" x2="310.95" y2="34.80" stroke="#c3a2c5" stroke-width="2.0" />
<line x1="310.95" y1="34.80" x2="321.30" y2="31.30" stroke="#d2da2e" stroke-width="2.0" />
<line x1="300.60" y1="38.30" x2="300.60" y2="50.50" stroke="#c3a2c5" stroke-width="2.0" />
<line x1="300.60" y1="50.50" x2="300.60" y2="62.70" stroke="#c3a2c5" stroke-width="2.0" />
<line x1="300.60" y1="62.70" x2="290.90" y2="65.80" stroke="#c3a2c5" stroke-width="2.0" />
<line x1="290.90" y1="65.80" x2="281.20" y2="68.90" stroke="#d2da2e" stroke-width="2.0" />
<line x1="300.60" y1="62.70" x2="301.45" y2="66.00" stroke="#c3a2c5" stroke-width="2.0" />
<line x1="301.45" y1="66.00" x2="302.30" y2="69.30" stroke="#d2da2e" stroke-width="2.0" />
<line x1="300.60" y1="62.70" x2="309.85" y2="65.45" stroke="#c3a2c5" stroke-width="2.0" />
<line x1="309.85" y1="65.45" x2="319.10" y2="68.20" stroke="#d2da2e" stroke-width="2.0" />
<line x1="180.00" y1="103.05" x2="190.25" y2="106.60" stroke="#d2da2e" stroke-width="2.0" />
<line x1="190.25" y1="106.60" x2="200.50" y2="110.15" stroke="#c3a2c5" stroke-width="2.0" />
<line x1="200.50" y1="110.15" x2="201.75" y2="106.30" stroke="#c3a2c5" stroke-width="2.0" />
<line x1="201.75" y1="106.30" x2="203.00" y2="102.45" stroke="#d2da2e" stroke-width="2.0" />
<line x1="200.50" y1="110.15" x2="209.50" y2="106.30" stroke="#c3a2c5" stroke-width="2.0" />
<line x1="209.50" y1="106.30" x2="218.50" y2="102.45" stroke="#d2da2e" stroke-width="2.0" />
<line x1="200.50" y1="110.15" x2="200.50" y2="122.15" stroke="#c3a2c5" stroke-width="2.0" />
<line x1="200.50" y1="122.15" x2="200.50" y2="134.15" stroke="#c3a2c5" stroke-width="2.0" />
<line x1="200.50" y1="134.15" x2="191.50" y2="137.55" stroke="#c3a2c5" stroke-width="2.0" />
<line x1="191.50" y1="137.55" x2="182.50" y2="140.95" stroke="#d2da2e" stroke-width="2.0" />
<line x1="200.50" y1="134.15" x2="199.90" y2="137.85" stroke="#c3a2c5" stroke-width="2.0" />
<line x1="199.90" y1="137.85" x2="199.30" y2="141.55" stroke="#d2da2e" stroke-width="2.0" />
<line x1="200.50" y1="134.15" x2="210.75" y2="137.55" stroke="#c3a2c5" stroke-width="2.0" />
<line x1="210.75" y1="137.55" x2="221.00" y2="140.95" stroke="#d2da2e" stroke-width="2.0" />
<line x1="221.00" y1="125.45" x2="212.00" y2="113.95" stroke="#c678ae" stroke-width="2.0" />
<line x1="212.00" y1="113.95" x2="203.00" y2="102.45" stroke="#d2da2e" stroke-width="2.0" />
<line x1="221.00" y1="125.45" x2="219.75" y2="113.95" stroke="#c678ae" stroke-width="2.0" />
<line x1="219.75" y1="113.95" x2="218.50" y2="102.45" stroke="#d2da2e" stroke-width="2.0" />
<line x1="221.00" y1="125.45" x2="230.90" y2="115.05" stroke="#c678ae" stroke-width="2.0" />
<line x1="230.90" y1="115.05" x2="240.80" y2="104.65" stroke="#d2da2e" stroke-width="2.0" />
<line x1="221.00" y1="125.45" x2="210.15" y2="133.50" stroke="#c678ae" stroke-width="2.0" />
<line x1="210.15" y1="133.50" x2="199.30" y2="141.55" stroke="#d2da2e" stroke-width="2.0" />
<line x1="221.00" y1="125.45" x2="221.00" y2="133.20" stroke="#c678ae" stroke-width="2.0" />
<line x1="221.00" y1="133.20" x2="221.00" y2="140.95" stroke="#d2da2e" stroke-width="2.0" />
<line x1="221.00" y1="125.45" x2="231.55" y2="133.20" stroke="#c678ae" stroke-width="2.0" />
<line x1="231.55" y1="133.20" x2="242.10" y2="140.95" stroke="#d2da2e" stroke-width="2.0" />
<line x1="218.50" y1="102.45" x2="229.65" y2="99.75" stroke="#d2da2e" stroke-width="2.0" />
<line x1="229.65" y1="99.75" x2="240.80" y2="97.05" stroke="#2c58a8" stroke-width="2.0" />
<line x1="240.80" y1="97.05" x2="251.60" y2="100.00" stroke="#2c58a8" stroke-width="2.0" />
<line x1="251.60" y1="100.00" x2="262.40" y2="102.95" stroke="#d2da2e" stroke-width="2.0" />
<line x1="260.50" y1="110.25" x2="250.65" y2="107.45" stroke="#c3a2c5" stroke-width="2.0" />
<line x1="250.65" y1="107.45" x2="240.80" y2="104.65" stroke="#d2da2e" stroke-width="2.0" />
<line x1="260.50" y1="110.25" x2="261.45" y2="106.60" stroke="#c3a2c5" stroke-width="2.0" />
<line x1="261.45" y1="106.60" x2="262.40" y2="102.95" stroke="#d2da2e" stroke-width="2.0" />
<line x1="260.50" y1="110.25" x2="269.50" y2="106.60" stroke="#c3a2c5" stroke-width="2.0" />
<line x1="269.50" y1="106.60" x2="278.50" y2="102.95" stroke="#d2da2e" stroke-width="2.0" />
<line x1="260.50" y1="110.25" x2="260.65" y2="122.55" stroke="#c3a2c5" stroke-width="2.0" />
<line x1="260.65" y1="122.55" x2="260.80" y2="134.85" stroke="#c3a2c5" stroke-width="2.0" />
<line x1="260.80" y1="134.85" x2="251.45" y2="137.90" stroke="#c3a2c5" stroke-width="2.0" />
<line x1="251.45" y1="137.90" x2="242.10" y2="140.95" stroke="#d2da2e" stroke-width="2.0" />
<line x1="260.80" y1="134.85" x2="259.75" y2="138.35" stroke="#c3a2c5" stroke-width="2.0" />
<line x1="259.75" y1="138.35" x2="258.70" y2="141.85" stroke="#d2da2e" stroke-width="2.0" />
<line x1="260.80" y1="134.85" x2="270.50" y2="138.00" stroke="#c3a2c5" stroke-width="2.0" />
<line x1="270.50" y1="138.00" x2="280.20" y2="141.15" stroke="#d2da2e" stroke-width="2.0" />
<line x1="280.20" y1="125.45" x2="271.30" y2="114.20" stroke="#c678ae" stroke-width="2.0" />
<line x1="271.30" y1="114.20" x2="262.40" y2="102.95" stroke="#d2da2e" stroke-width="2.0" />
<line x1="280.20" y1="125.45" x2="279.35" y2="114.20" stroke="#c678ae" stroke-width="2.0" />
<line x1="279.35" y1="114.20" x2="278.50" y2="102.95" stroke="#d2da2e" stroke-width="2.0" />
<line x1="280.20" y1="125.45" x2="290.05" y2="115.05" stroke="#c678ae" stroke-width="2.0" />
<line x1="290.05" y1="115.05" x2="299.90" y2="104.65" stroke="#d2da2e" stroke-width="2.0" />
<line x1="280.20" y1="125.45" x2="269.45" y2="133.65" stroke="#c678ae" stroke-width="2.0" />
<line x1="269.45" y1="133.65" x2="258.70" y2="141.85" stroke="#d2da2e" stroke-width="2.0" />
<line x1="280.20" y1="125.45" x2="280.20" y2="133.30" stroke="#c678ae" stroke-width="2.0" />
<line x1="280.20" y1="133.30" x2="280.20" y2="141.15" stroke="#d2da2e" stroke-width="2.0" />
<line x1="280.20" y1="125.45" x2="290.95" y2="133.30" stroke="#c678ae" stroke-width="2.0" />
<line x1="290.95" y1="133.30" x2="301.70" y2="141.15" stroke="#d2da2e" stroke-width="2.0" />
<line x1="278.50" y1="102.95" x2="289.20" y2="99.95" stroke="#d2da2e" stroke-width="2.0" />
<line x1="289.20" y1="99.95" x2="299.90" y2="96.95" stroke="#2c58a8" stroke-width="2.0" />
<line x1="299.90" y1="96.95" x2="311.20" y2="99.95" stroke="#2c58a8" stroke-width="2.0" />
<line x1="311.20" y1="99.95" x2="322.50" y2="102.95" stroke="#d2da2e" stroke-width="2.0" />
<line x1="178.90" y1="175.70" x2="190.00" y2="173.15" stroke="#d2da2e" stroke-width="2.0" />
<line x1="190.00" y1="173.15" x2="201.10" y2="170.60" stroke="#2c58a8" stroke-width="2.0" />
<line x1="201.10" y1="170.60" x2="211.90" y2="173.05" stroke="#2c58a8" stroke-width="2.0" />
<line x1="211.90" y1="173.05" x2="222.70" y2="175.50" stroke="#d2da2e" stroke-width="2.0" />
<line x1="238.60" y1="175.30" x2="249.65" y2="172.90" stroke="#d2da2e" stroke-width="2.0" />
<line x1="249.65" y1="172.90" x2="260.70" y2="170.50" stroke="#2c58a8" stroke-width="2.0" />
<line x1="260.70" y1="170.50" x2="271.65" y2="172.85" stroke="#2c58a8" stroke-width="2.0" />
<line x1="271.65" y1="172.85" x2="282.60" y2="175.20" stroke="#d2da2e" stroke-width="2.0" />
<line x1="220.90" y1="197.60" x2="211.00" y2="187.60" stroke="#c678ae" stroke-width="2.0" />
<line x1="211.00" y1="187.60" x2="201.10" y2="177.60" stroke="#d2da2e" stroke-width="2.0" />
<line x1="220.90" y1="197.60" x2="221.80" y2="186.55" stroke="#c678ae" stroke-width="2.0" />
<line x1="221.80" y1="186.55" x2="222.70" y2="175.50" stroke="#d2da2e" stroke-width="2.0" />
<line x1="220.90" y1="197.60" x2="229.75" y2="186.45" stroke="#c678ae" stroke-width="2.0" />
<line x1="229.75" y1="186.45" x2="238.60" y2="175.30" stroke="#d2da2e" stroke-width="2.0" />
<line x1="220.90" y1="197.60" x2="210.10" y2="205.60" stroke="#c678ae" stroke-width="2.0" />
<line x1="210.10" y1="205.60" x2="199.30" y2="213.60" stroke="#d2da2e" stroke-width="2.0" />
<line x1="220.90" y1="197.60" x2="220.90" y2="205.60" stroke="#c678ae" stroke-width="2.0" />
<line x1="220.90" y1="205.60" x2="220.90" y2="213.60" stroke="#d2da2e" stroke-width="2.0" />
<line x1="220.90" y1="197.60" x2="231.70" y2="205.75" stroke="#c678ae" stroke-width="2.0" />
<line x1="231.70" y1="205.75" x2="242.50" y2="213.90" stroke="#d2da2e" stroke-width="2.0" />
<line x1="240.50" y1="183.20" x2="231.60" y2="179.35" stroke="#c3a2c5" stroke-width="2.0" />
<line x1="231.60" y1="179.35" x2="222.70" y2="175.50" stroke="#d2da2e" stroke-width="2.0" />
<line x1="240.50" y1="183.20" x2="239.55" y2="179.25" stroke="#c3a2c5" stroke-width="2.0" />
<line x1="239.55" y1="179.25" x2="238.60" y2="175.30" stroke="#d2da2e" stroke-width="2.0" />
<line x1="240.50" y1="183.20" x2="250.60" y2="180.40" stroke="#c3a2c5" stroke-width="2.0" />
<line x1="250.60" y1="180.40" x2="260.70" y2="177.60" stroke="#d2da2e" stroke-width="2.0" />
<line x1="240.50" y1="183.20" x2="240.25" y2="195.25" stroke="#c3a2c5" stroke-width="2.0" />
<line x1="240.25" y1="195.25" x2="240.00" y2="207.30" stroke="#c3a2c5" stroke-width="2.0" />
<line x1="240.00" y1="207.30" x2="230.45" y2="210.45" stroke="#c3a2c5" stroke-width="2.0" />
<line x1="230.45" y1="210.45" x2="220.90" y2="213.60" stroke="#d2da2e" stroke-width="2.0" />
<line x1="240.00" y1="207.30" x2="241.25" y2="210.60" stroke="#c3a2c5" stroke-width="2.0" />
<line x1="241.25" y1="210.60" x2="242.50" y2="213.90" stroke="#d2da2e" stroke-width="2.0" />
<line x1="240.00" y1="207.30" x2="249.25" y2="210.45" stroke="#c3a2c5" stroke-width="2.0" />
<line x1="249.25" y1="210.45" x2="258.50" y2="213.60" stroke="#d2da2e" stroke-width="2.0" />
<line x1="280.40" y1="197.60" x2="270.55" y2="187.60" stroke="#c678ae" stroke-width="2.0" />
<line x1="270.55" y1="187.60" x2="260.70" y2="177.60" stroke="#d2da2e" stroke-width="2.0" />
<line x1="280.40" y1="197.60" x2="281.50" y2="186.40" stroke="#c678ae" stroke-width="2.0" />
<line x1="281.50" y1="186.40" x2="282.60" y2="175.20" stroke="#d2da2e" stroke-width="2.0" />
<line x1="280.40" y1="197.60" x2="289.55" y2="186.40" stroke="#c678ae" stroke-width="2.0" />
<line x1="289.55" y1="186.40" x2="298.70" y2="175.20" stroke="#d2da2e" stroke-width="2.0" />
<line x1="280.40" y1="197.60" x2="269.45" y2="205.60" stroke="#c678ae" stroke-width="2.0" />
<line x1="269.45" y1="205.60" x2="258.50" y2="213.60" stroke="#d2da2e" stroke-width="2.0" />
<line x1="280.40" y1="197.60" x2="280.80" y2="205.60" stroke="#c678ae" stroke-width="2.0" />
<line x1="280.80" y1="205.60" x2="281.20" y2="213.60" stroke="#d2da2e" stroke-width="2.0" />
<line x1="280.40" y1="197.60" x2="291.35" y2="205.80" stroke="#c678ae" stroke-width="2.0" />
<line x1="291.35" y1="205.80" x2="302.30" y2="214.00" stroke="#d2da2e" stroke-width="2.0" />
<line x1="300.60" y1="183.00" x2="291.60" y2="179.10" stroke="#c3a2c5" stroke-width="2.0" />
<line x1="291.60" y1="179.10" x2="282.60" y2="175.20" stroke="#d2da2e" stroke-width="2.0" />
<line x1="300.60" y1="183.00" x2="299.65" y2="179.10" stroke="#c3a2c5" stroke-width="2.0" />
<line x1="299.65" y1="179.10" x2="298.70" y2="175.20" stroke="#d2da2e" stroke-width="2.0" />
<line x1="300.60" y1="183.00" x2="310.95" y2="179.50" stroke="#c3a2c5" stroke-width="2.0" />
<line x1="310.95" y1="179.50" x2="321.30" y2="176.00" stroke="#d2da2e" stroke-width="2.0" />
<line x1="300.60" y1="183.00" x2="300.60" y2="195.20" stroke="#c3a2c5" stroke-width="2.0" />
<line x1="300.60" y1="195.20" x2="300.60" y2="207.40" stroke="#c3a2c5" stroke-width="2.0" />
<line x1="300.60" y1="207.40" x2="290.90" y2="210.50" stroke="#c3a2c5" stroke-width="2.0" />
<line x1="290.90" y1="210.50" x2="281.20" y2="213.60" stroke="#d2da2e" stroke-width="2.0" />
<line x1="300.60" y1="207.40" x2="301.45" y2="210.70" stroke="#c3a2c5" stroke-width="2.0" />
<line x1="301.45" y1="210.70" x2="302.30" y2="214.00" stroke="#d2da2e" stroke-width="2.0" />
<line x1="300.60" y1="207.40" x2="309.85" y2="210.15" stroke="#c3a2c5" stroke-width="2.0" />
<line x1="309.85" y1="210.15" x2="319.10" y2="212.90" stroke="#d2da2e" stroke-width="2.0" />
<line x1="180.00" y1="247.75" x2="190.25" y2="251.30" stroke="#d2da2e" stroke-width="2.0" />
<line x1="190.25" y1="251.30" x2="200.50" y2="254.85" stroke="#c3a2c5" stroke-width="2.0" />
<line x1="200.50" y1="254.85" x2="201.75" y2="251.00" stroke="#c3a2c5" stroke-width="2.0" />
<line x1="201.75" y1="251.00" x2="203.00" y2="247.15" stroke="#d2da2e" stroke-width="2.0" />
<line x1="200.50" y1="254.85" x2="209.50" y2="251.00" stroke="#c3a2c5" stroke-width="2.0" />
<line x1="209.50" y1="251.00" x2="218.50" y2="247.15" stroke="#d2da2e" stroke-width="2.0" />
<line x1="200.50" y1="254.85" x2="200.50" y2="266.85" stroke="#c3a2c5" stroke-width="2.0" />
<line x1="200.50" y1="266.85" x2="200.50" y2="278.85" stroke="#c3a2c5" stroke-width="2.0" />
<line x1="200.50" y1="278.85" x2="191.50" y2="282.25" stroke="#c3a2c5" stroke-width="2.0" />
<line x1="191.50" y1="282.25" x2="182.50" y2="285.65" stroke="#d2da2e" stroke-width="2.0" />
<line x1="200.50" y1="278.85" x2="199.90" y2="282.55" stroke="#c3a2c5" stroke-width="2.0" />
<line x1="199.90" y1="282.55" x2="199.30" y2="286.25" stroke="#d2da2e" stroke-width="2.0" />
<line x1="200.50" y1="278.85" x2="210.75" y2="282.25" stroke="#c3a2c5" stroke-width="2.0" />
<line x1="210.75" y1="282.25" x2="221.00" y2="285.65" stroke="#d2da2e" stroke-width="2.0" />
<line x1="221.00" y1="270.15" x2="212.00" y2="258.65" stroke="#c678ae" stroke-width="2.0" />
<line x1="212.00" y1="258.65" x2="203.00" y2="247.15" stroke="#d2da2e" stroke-width="2.0" />
<line x1="221.00" y1="270.15" x2="219.75" y2="258.65" stroke="#c678ae" stroke-width="2.0" />
<line x1="219.75" y1="258.65" x2="218.50" y2="247.15" stroke="#d2da2e" stroke-width="2.0" />
<line x1="221.00" y1="270.15" x2="230.90" y2="259.75" stroke="#c678ae" stroke-width="2.0" />
<line x1="230.90" y1="259.75" x2="240.80" y2="249.35" stroke="#d2da2e" stroke-width="2.0" />
<line x1="221.00" y1="270.15" x2="210.15" y2="278.20" stroke="#c678ae" stroke-width="2.0" />
<line x1="210.15" y1="278.20" x2="199.30" y2="286.25" stroke="#d2da2e" stroke-width="2.0" />
<line x1="221.00" y1="270.15" x2="221.00" y2="277.90" stroke="#c678ae" stroke-width="2.0" />
<line x1="221.00" y1="277.90" x2="221.00" y2="285.65" stroke="#d2da2e" stroke-width="2.0" />
<line x1="221.00" y1="270.15" x2="231.55" y2="277.90" stroke="#c678ae" stroke-width="2.0" />
<line x1="231.55" y1="277.90" x2="242.10" y2="285.65" stroke="#d2da2e" stroke-width="2.0" />
<line x1="218.50" y1="247.15" x2="229.65" y2="244.45" stroke="#d2da2e" stroke-width="2.0" />
<line x1="229.65" y1="244.45" x2="240.80" y2="241.75" stroke="#2c58a8" stroke-width="2.0" />
<line x1="240.80" y1="241.75" x2="251.60" y2="244.70" stroke="#2c58a8" stroke-width="2.0" />
<line x1="251.60" y1="244.70" x2="262.40" y2="247.65" stroke="#d2da2e" stroke-width="2.0" />
<line x1="260.50" y1="254.95" x2="250.65" y2="252.15" stroke="#c3a2c5" stroke-width="2.0" />
<line x1="250.65" y1="252.15" x2="240.80" y2="249.35" stroke="#d2da2e" stroke-width="2.0" />
<line x1="260.50" y1="254.95" x2="261.45" y2="251.30" stroke="#c3a2c5" stroke-width="2.0" />
<line x1="261.45" y1="251.30" x2="262.40" y2="247.65" stroke="#d2da2e" stroke-width="2.0" />
<line x1="260.50" y1="254.95" x2="269.50" y2="251.30" stroke="#c3a2c5" stroke-width="2.0" />
<line x1="269.50" y1="251.30" x2="278.50" y2="247.65" stroke="#d2da2e" stroke-width="2.0" />
<line x1="260.50" y1="254.95" x2="260.65" y2="267.25" stroke="#c3a2c5" stroke-width="2.0" />
<line x1="260.65" y1="267.25" x2="260.80" y2="279.55" stroke="#c3a2c5" stroke-width="2.0" />
<line x1="260.80" y1="279.55" x2="251.45" y2="282.60" stroke="#c3a2c5" stroke-width="2.0" />
<line x1="251.45" y1="282.60" x2="242.10" y2="285.65" stroke="#d2da2e" stroke-width="2.0" />
<line x1="260.80" y1="279.55" x2="259.75" y2="283.05" stroke="#c3a2c5" stroke-width="2.0" />
<line x1="259.75" y1="283.05" x2="258.70" y2="286.55" stroke="#d2da2e" stroke-width="2.0" />
<line x1="260.80" y1="279.55" x2="270.50" y2="282.70" stroke="#c3a2c5" stroke-width="2.0" />
<line x1="270.50" y1="282.70" x2="280.20" y2="285.85" stroke="#d2da2e" stroke-width="2.0" />
<line x1="280.20" y1="270.15" x2="271.30" y2="258.90" stroke="#c678ae" stroke-width="2.0" />
<line x1="271.30" y1="258.90" x2="262.40" y2="247.65" stroke="#d2da2e" stroke-width="2.0" />
<line x1="280.20" y1="270.15" x2="279.35" y2="258.90" stroke="#c678ae" stroke-width="2.0" />
<line x1="279.35" y1="258.90" x2="278.50" y2="247.65" stroke="#d2da2e" stroke-width="2.0" />
<line x1="280.20" y1="270.15" x2="290.05" y2="259.75" stroke="#c678ae" stroke-width="2.0" />
<line x1="290.05" y1="259.75" x2="299.90" y2="249.35" stroke="#d2da2e" stroke-width="2.0" />
<line x1="280.20" y1="270.15" x2="269.45" y2="278.35" stroke="#c678ae" stroke-width="2.0" />
<line x1="269.45" y1="278.35" x2="258.70" y2="286.55" stroke="#d2da2e" stroke-width="2.0" />
<line x1="280.20" y1="270.15" x2="280.20" y2="278.00" stroke="#c678ae" stroke-width="2.0" />
<line x1="280.20" y1="278.00" x2="280.20" y2="285.85" stroke="#d2da2e" stroke-width="2.0" />
<line x1="280.20" y1="270.15" x2="290.95" y2="278.00" stroke="#c678ae" stroke-width="2.0" />
<line x1="290.95" y1="278.00" x2="301.70" y2="285.85" stroke="#d2da2e" stroke-width="2.0" />
<line x1="278.50" y1="247.65" x2="289.20" y2="244.65" stroke="#d2da2e" stroke-width="2.0" />
<line x1="289.20" y1="244.65" x2="299.90" y2="241.65" stroke="#2c58a8" stroke-width="2.0" />
<line x1="299.90" y1="241.65" x2="311.20" y2="244.65" stroke="#2c58a8" stroke-width="2.0" />
<line x1="311.20" y1="244.65" x2="322.50" y2="247.65" stroke="#d2da2e" stroke-width="2.0" />
<line x1="240.80" y1="97.05" x2="241.65" y2="83.12" stroke="#2c58a8" stroke-width="2.0" />
<line x1="241.65" y1="83.12" x2="242.50" y2="69.20" stroke="#d2da2e" stroke-width="2.0" />
<line x1="299.90" y1="96.95" x2="301.10" y2="83.12" stroke="#2c58a8" stroke-width="2.0" />
<line x1="301.10" y1="83.12" x2="302.30" y2="69.30" stroke="#d2da2e" stroke-width="2.0" />
<line x1="201.10" y1="170.60" x2="200.20" y2="156.07" stroke="#2c58a8" stroke-width="2.0" />
<line x1="200.20" y1="156.07" x2="199.30" y2="141.55" stroke="#d2da2e" stroke-width="2.0" />
<line x1="260.70" y1="170.50" x2="259.70" y2="156.18" stroke="#2c58a8" stroke-width="2.0" />
<line x1="259.70" y1="156.18" x2="258.70" y2="141.85" stroke="#d2da2e" stroke-width="2.0" />
<line x1="240.80" y1="241.75" x2="241.65" y2="227.82" stroke="#2c58a8" stroke-width="2.0" />
<line x1="241.65" y1="227.82" x2="242.50" y2="213.90" stroke="#d2da2e" stroke-width="2.0" />
<line x1="299.90" y1="241.65" x2="301.10" y2="227.82" stroke="#2c58a8" stroke-width="2.0" />
<line x1="301.10" y1="227.82" x2="302.30" y2="214.00" stroke="#d2da2e" stroke-width="2.0" />
<line x1="201.10" y1="25.80" x2="201.10" y2="11.50" stroke="#2c58a8" stroke-width="2" />
<line x1="201.10" y1="11.50" x2="201.00" y2="5.50" stroke="#d2da2e" stroke-width="2" />
<line x1="260.70" y1="25.70" x2="260.70" y2="11.50" stroke="#2c58a8" stroke-width="2" />
<line x1="260.70" y1="11.50" x2="260.60" y2="5.50" stroke="#d2da2e" stroke-width="2" />
<circle cx="240.50" cy="38.50" r="4.50" fill="url(#gP)"/>
<circle cx="300.60" cy="38.30" r="4.50" fill="url(#gP)"/>
<circle cx="240.00" cy="62.60" r="4.50" fill="url(#gP)"/>
<circle cx="300.60" cy="62.70" r="4.50" fill="url(#gP)"/>
<circle cx="201.10" cy="32.90" r="4.50" fill="url(#gS)"/>
<circle cx="260.70" cy="32.90" r="4.50" fill="url(#gS)"/>
<circle cx="178.90" cy="31.00" r="4.50" fill="url(#gS)"/>
<circle cx="222.70" cy="30.80" r="4.50" fill="url(#gS)"/>
<circle cx="238.60" cy="30.60" r="4.50" fill="url(#gS)"/>
<circle cx="282.60" cy="30.50" r="4.50" fill="url(#gS)"/>
<circle cx="298.70" cy="30.50" r="4.50" fill="url(#gS)"/>
<circle cx="321.30" cy="31.30" r="4.50" fill="url(#gS)"/>
<circle cx="199.30" cy="68.90" r="4.50" fill="url(#gS)"/>
<circle cx="220.90" cy="68.90" r="4.50" fill="url(#gS)"/>
<circle cx="242.50" cy="69.20" r="4.50" fill="url(#gS)"/>
<circle cx="258.50" cy="68.90" r="4.50" fill="url(#gS)"/>
<circle cx="281.20" cy="68.90" r="4.50" fill="url(#gS)"/>
<circle cx="302.30" cy="69.30" r="4.50" fill="url(#gS)"/>
<circle cx="319.10" cy="68.20" r="4.50" fill="url(#gS)"/>
<circle cx="220.90" cy="52.90" r="7.50" fill="url(#gIn)"/>
<circle cx="280.40" cy="52.90" r="7.50" fill="url(#gIn)"/>
<circle cx="201.10" cy="25.80" r="5.60" fill="url(#gCu)"/>
<circle cx="260.70" cy="25.70" r="5.60" fill="url(#gCu)"/>
<circle cx="200.50" cy="110.15" r="4.50" fill="url(#gP)"/>
<circle cx="260.50" cy="110.25" r="4.50" fill="url(#gP)"/>
<circle cx="200.50" cy="134.15" r="4.50" fill="url(#gP)"/>
<circle cx="260.80" cy="134.85" r="4.50" fill="url(#gP)"/>
<circle cx="240.80" cy="104.65" r="4.50" fill="url(#gS)"/>
<circle cx="299.90" cy="104.65" r="4.50" fill="url(#gS)"/>
<circle cx="180.00" cy="103.05" r="4.50" fill="url(#gS)"/>
<circle cx="203.00" cy="102.45" r="4.50" fill="url(#gS)"/>
<circle cx="218.50" cy="102.45" r="4.50" fill="url(#gS)"/>
<circle cx="262.40" cy="102.95" r="4.50" fill="url(#gS)"/>
<circle cx="278.50" cy="102.95" r="4.50" fill="url(#gS)"/>
<circle cx="322.50" cy="102.95" r="4.50" fill="url(#gS)"/>
<circle cx="182.50" cy="140.95" r="4.50" fill="url(#gS)"/>
<circle cx="199.30" cy="141.55" r="4.50" fill="url(#gS)"/>
<circle cx="221.00" cy="140.95" r="4.50" fill="url(#gS)"/>
<circle cx="242.10" cy="140.95" r="4.50" fill="url(#gS)"/>
<circle cx="258.70" cy="141.85" r="4.50" fill="url(#gS)"/>
<circle cx="280.20" cy="141.15" r="4.50" fill="url(#gS)"/>
<circle cx="301.70" cy="141.15" r="4.50" fill="url(#gS)"/>
<circle cx="221.00" cy="125.45" r="7.50" fill="url(#gIn)"/>
<circle cx="280.20" cy="125.45" r="7.50" fill="url(#gIn)"/>
<circle cx="240.80" cy="97.05" r="5.60" fill="url(#gCu)"/>
<circle cx="299.90" cy="96.95" r="5.60" fill="url(#gCu)"/>
<circle cx="240.50" cy="183.20" r="4.50" fill="url(#gP)"/>
<circle cx="300.60" cy="183.00" r="4.50" fill="url(#gP)"/>
<circle cx="240.00" cy="207.30" r="4.50" fill="url(#gP)"/>
<circle cx="300.60" cy="207.40" r="4.50" fill="url(#gP)"/>
<circle cx="201.10" cy="177.60" r="4.50" fill="url(#gS)"/>
<circle cx="260.70" cy="177.60" r="4.50" fill="url(#gS)"/>
<circle cx="178.90" cy="175.70" r="4.50" fill="url(#gS)"/>
<circle cx="222.70" cy="175.50" r="4.50" fill="url(#gS)"/>
<circle cx="238.60" cy="175.30" r="4.50" fill="url(#gS)"/>
<circle cx="282.60" cy="175.20" r="4.50" fill="url(#gS)"/>
<circle cx="298.70" cy="175.20" r="4.50" fill="url(#gS)"/>
<circle cx="321.30" cy="176.00" r="4.50" fill="url(#gS)"/>
<circle cx="199.30" cy="213.60" r="4.50" fill="url(#gS)"/>
<circle cx="220.90" cy="213.60" r="4.50" fill="url(#gS)"/>
<circle cx="242.50" cy="213.90" r="4.50" fill="url(#gS)"/>
<circle cx="258.50" cy="213.60" r="4.50" fill="url(#gS)"/>
<circle cx="281.20" cy="213.60" r="4.50" fill="url(#gS)"/>
<circle cx="302.30" cy="214.00" r="4.50" fill="url(#gS)"/>
<circle cx="319.10" cy="212.90" r="4.50" fill="url(#gS)"/>
<circle cx="220.90" cy="197.60" r="7.50" fill="url(#gIn)"/>
<circle cx="280.40" cy="197.60" r="7.50" fill="url(#gIn)"/>
<circle cx="201.10" cy="170.60" r="5.60" fill="url(#gCu)"/>
<circle cx="260.70" cy="170.50" r="5.60" fill="url(#gCu)"/>
<circle cx="200.50" cy="254.85" r="4.50" fill="url(#gP)"/>
<circle cx="260.50" cy="254.95" r="4.50" fill="url(#gP)"/>
<circle cx="200.50" cy="278.85" r="4.50" fill="url(#gP)"/>
<circle cx="260.80" cy="279.55" r="4.50" fill="url(#gP)"/>
<circle cx="240.80" cy="249.35" r="4.50" fill="url(#gS)"/>
<circle cx="299.90" cy="249.35" r="4.50" fill="url(#gS)"/>
<circle cx="180.00" cy="247.75" r="4.50" fill="url(#gS)"/>
<circle cx="203.00" cy="247.15" r="4.50" fill="url(#gS)"/>
<circle cx="218.50" cy="247.15" r="4.50" fill="url(#gS)"/>
<circle cx="262.40" cy="247.65" r="4.50" fill="url(#gS)"/>
<circle cx="278.50" cy="247.65" r="4.50" fill="url(#gS)"/>
<circle cx="322.50" cy="247.65" r="4.50" fill="url(#gS)"/>
<circle cx="182.50" cy="285.65" r="4.50" fill="url(#gS)"/>
<circle cx="199.30" cy="286.25" r="4.50" fill="url(#gS)"/>
<circle cx="221.00" cy="285.65" r="4.50" fill="url(#gS)"/>
<circle cx="242.10" cy="285.65" r="4.50" fill="url(#gS)"/>
<circle cx="258.70" cy="286.55" r="4.50" fill="url(#gS)"/>
<circle cx="280.20" cy="285.85" r="4.50" fill="url(#gS)"/>
<circle cx="301.70" cy="285.85" r="4.50" fill="url(#gS)"/>
<circle cx="221.00" cy="270.15" r="7.50" fill="url(#gIn)"/>
<circle cx="280.20" cy="270.15" r="7.50" fill="url(#gIn)"/>
<circle cx="240.80" cy="241.75" r="5.60" fill="url(#gCu)"/>
<circle cx="299.90" cy="241.65" r="5.60" fill="url(#gCu)"/>
<rect x="190.8" y="18.7" width="119.6" height="290.3" fill="none" stroke="#555" stroke-width="1.2"/>
<circle cx="67" cy="270.6" r="50.9" fill="#000" opacity="0.55" filter="url(#blur3)"/>
<circle cx="64" cy="266.1" r="49.4" fill="#fff"/>
<g clip-path="url(#clipA)"><g filter="url(#soft)">
<line x1="8.00" y1="243.30" x2="19.00" y2="243.20" stroke="#d2da2e" stroke-width="4.3" />
<line x1="19.00" y1="243.20" x2="46.20" y2="243.10" stroke="#2c58a8" stroke-width="4.3" />
<line x1="46.20" y1="243.10" x2="71.00" y2="242.20" stroke="#2c58a8" stroke-width="4.3" />
<line x1="71.00" y1="242.20" x2="96.60" y2="241.00" stroke="#d2da2e" stroke-width="4.3" />
<line x1="40.00" y1="249.00" x2="19.00" y2="271.00" stroke="#d2da2e" stroke-width="4.3" />
<line x1="19.00" y1="271.00" x2="5.00" y2="286.00" stroke="#c678ae" stroke-width="4.3" />
<line x1="50.00" y1="246.00" x2="71.00" y2="251.00" stroke="#d2da2e" stroke-width="4.3" />
<line x1="71.00" y1="251.00" x2="92.50" y2="256.50" stroke="#c3a2c5" stroke-width="4.3" />
<line x1="92.50" y1="256.50" x2="92.50" y2="330.00" stroke="#c8a8cc" stroke-width="5" />
<line x1="96.60" y1="241.00" x2="104.00" y2="250.00" stroke="#d2da2e" stroke-width="4.3" />
<line x1="104.00" y1="250.00" x2="118.00" y2="266.00" stroke="#d2da2e" stroke-width="4.3" />
<line x1="92.50" y1="256.50" x2="110.00" y2="262.00" stroke="#c3a2c5" stroke-width="4.3" />
<circle cx="96.60" cy="241.00" r="9.20" fill="url(#gS)"/>
<circle cx="92.50" cy="256.60" r="9.80" fill="url(#gP)"/>
<circle cx="46.20" cy="243.10" r="12.80" fill="url(#gCu)"/>
<line x1="30.10" y1="285.30" x2="107.90" y2="285.30" stroke="#4a4a4a" stroke-width="1.5" />
<path d="M44.10,285.30 V254.20 H40.20 L46.20,242.80 L52.20,254.20 H48.30 V285.30 Z" fill="#1a1a1a"/>
</g></g>
<circle cx="64" cy="266.1" r="49.4" fill="none" stroke="#383838" stroke-width="3.3"/>
<circle cx="224.1" cy="268.5" r="50.5" fill="#000" opacity="0.55" filter="url(#blur3)"/>
<circle cx="221.1" cy="264" r="49" fill="#fff"/>
<g clip-path="url(#clipB)"><g filter="url(#soft)">
<line x1="202.40" y1="236.00" x2="204.00" y2="205.00" stroke="#2c58a8" stroke-width="4.3" />
<line x1="201.60" y1="236.00" x2="165.00" y2="244.00" stroke="#2c58a8" stroke-width="4.3" />
<line x1="201.60" y1="236.00" x2="224.70" y2="244.10" stroke="#2c58a8" stroke-width="4.3" />
<line x1="224.70" y1="244.10" x2="246.30" y2="248.20" stroke="#d2da2e" stroke-width="4.3" />
<line x1="201.00" y1="251.30" x2="180.00" y2="272.00" stroke="#d2da2e" stroke-width="4.3" />
<line x1="180.00" y1="272.00" x2="165.00" y2="287.00" stroke="#c678ae" stroke-width="4.3" />
<line x1="201.00" y1="251.30" x2="222.00" y2="257.50" stroke="#d2da2e" stroke-width="4.3" />
<line x1="222.00" y1="257.50" x2="241.60" y2="263.70" stroke="#c3a2c5" stroke-width="4.3" />
<line x1="241.60" y1="263.70" x2="241.60" y2="330.00" stroke="#c8a8cc" stroke-width="5" />
<line x1="241.60" y1="263.70" x2="257.00" y2="257.00" stroke="#c3a2c5" stroke-width="4.3" />
<line x1="257.00" y1="257.00" x2="274.00" y2="249.50" stroke="#d2da2e" stroke-width="4.3" />
<line x1="246.30" y1="248.20" x2="262.00" y2="270.00" stroke="#d2da2e" stroke-width="4.3" />
<line x1="262.00" y1="270.00" x2="276.00" y2="289.00" stroke="#c678ae" stroke-width="4.3" />
<circle cx="201.00" cy="250.50" r="9.50" fill="url(#gS)"/>
<circle cx="246.30" cy="248.20" r="9.30" fill="url(#gS)"/>
<circle cx="241.60" cy="263.70" r="9.80" fill="url(#gP)"/>
<circle cx="201.60" cy="235.90" r="11.30" fill="url(#gCu)"/>
<line x1="188.70" y1="288.40" x2="255.60" y2="288.40" stroke="#4a4a4a" stroke-width="1.5" />
<path d="M198.90,288.40 V249.00 H194.80 L201.00,238.00 L207.20,249.00 H203.10 V288.40 Z" fill="#1a1a1a"/>
</g></g>
<circle cx="221.1" cy="264" r="49" fill="none" stroke="#383838" stroke-width="3.3"/>
<text x="40.20" y="344.80" font-size="11" textLength="23.00" lengthAdjust="spacingAndGlyphs" >Cu =</text>
<circle cx="76.60" cy="340.80" r="7.60" fill="url(#gCu)"/>
<text x="119.30" y="344.80" font-size="11" textLength="16.60" lengthAdjust="spacingAndGlyphs" >P =</text>
<circle cx="147.00" cy="340.30" r="5.80" fill="url(#gP)"/>
<text x="187.30" y="338.30" font-size="11" textLength="17.70" lengthAdjust="spacingAndGlyphs" >In =</text>
<circle cx="219.30" cy="335.20" r="10.00" fill="url(#gIn)"/>
<text x="268.50" y="344.00" font-size="11" textLength="16.10" lengthAdjust="spacingAndGlyphs" >S =</text>
<circle cx="294.90" cy="338.50" r="8.00" fill="url(#gS)"/>
<circle cx="328.1" cy="315.2" r="7.3" fill="#fff" stroke="#111" stroke-width="2"/>
<line x1="323.00" y1="310.10" x2="333.20" y2="320.30" stroke="#111" stroke-width="1.8" />
<line x1="333.20" y1="310.10" x2="323.00" y2="320.30" stroke="#111" stroke-width="1.8" />
<line x1="328.10" y1="307.90" x2="328.10" y2="283.00" stroke="#111" stroke-width="2.6" />
<polygon points="323.6,284 332.6,284 328.1,274.7" fill="#111"/>
<line x1="335.40" y1="315.20" x2="351.00" y2="315.20" stroke="#111" stroke-width="2.6" />
<polygon points="350,310.7 350,319.7 359.3,315.2" fill="#111"/>
<text x="334.80" y="281.20" font-size="11" font-style="italic" >z</text>
<text x="360.60" y="317.80" font-size="11" font-style="italic" >x</text>
<text x="16.50" y="9.80" font-size="13" transform="matrix(0.82,0,0,1,2.970,0)" font-weight="bold" >a</text>
<text x="167.50" y="9.60" font-size="13" transform="matrix(0.82,0,0,1,30.150,0)" font-weight="bold" >b</text>
<text x="41.80" y="386.30" font-size="13" transform="matrix(0.86,0,0,1,5.852,0)" font-weight="bold" >c</text>
<text x="390.10" y="10.00" font-size="13" transform="matrix(0.9,0,0,1,39.010,0)" font-weight="bold" >d</text>
<text x="390.00" y="240.80" font-size="13" transform="matrix(0.9,0,0,1,39.000,0)" font-weight="bold" >e</text>
<text x="390.60" y="425.80" font-size="13" transform="matrix(0.9,0,0,1,39.060,0)" font-weight="bold" >f</text>
<path d="M684.2,17.8 V176.5 H445.3 V17.8" fill="none" stroke="#9a9899" stroke-width="1.2"/>
<line x1="445.30" y1="17.80" x2="684.20" y2="17.80" stroke="#c4c4c4" stroke-width="1.6" />
<line x1="442.30" y1="18.10" x2="445.30" y2="18.10" stroke="#9a9899" stroke-width="1" />
<line x1="443.30" y1="40.15" x2="445.30" y2="40.15" stroke="#9a9899" stroke-width="1" />
<line x1="442.30" y1="62.20" x2="445.30" y2="62.20" stroke="#9a9899" stroke-width="1" />
<line x1="443.30" y1="84.25" x2="445.30" y2="84.25" stroke="#9a9899" stroke-width="1" />
<line x1="442.30" y1="106.30" x2="445.30" y2="106.30" stroke="#9a9899" stroke-width="1" />
<line x1="443.30" y1="128.35" x2="445.30" y2="128.35" stroke="#9a9899" stroke-width="1" />
<line x1="442.30" y1="150.40" x2="445.30" y2="150.40" stroke="#9a9899" stroke-width="1" />
<line x1="443.30" y1="172.45" x2="445.30" y2="172.45" stroke="#9a9899" stroke-width="1" />
<line x1="445.30" y1="176.50" x2="445.30" y2="179.50" stroke="#9a9899" stroke-width="1" />
<line x1="482.70" y1="176.50" x2="482.70" y2="178.50" stroke="#9a9899" stroke-width="1" />
<line x1="520.10" y1="176.50" x2="520.10" y2="179.50" stroke="#9a9899" stroke-width="1" />
<line x1="557.50" y1="176.50" x2="557.50" y2="178.50" stroke="#9a9899" stroke-width="1" />
<line x1="594.90" y1="176.50" x2="594.90" y2="179.50" stroke="#9a9899" stroke-width="1" />
<line x1="632.30" y1="176.50" x2="632.30" y2="178.50" stroke="#9a9899" stroke-width="1" />
<line x1="669.70" y1="176.50" x2="669.70" y2="179.50" stroke="#9a9899" stroke-width="1" />
<text x="436.80" y="22.10" font-size="11" text-anchor="end" >0.00</text>
<text x="436.80" y="66.20" font-size="11" text-anchor="end" >−0.05</text>
<text x="436.80" y="110.30" font-size="11" text-anchor="end" >−0.10</text>
<text x="436.80" y="154.40" font-size="11" text-anchor="end" >−0.15</text>
<text x="445.30" y="194.00" font-size="11" text-anchor="middle" >0</text>
<text x="520.10" y="194.00" font-size="11" text-anchor="middle" >5</text>
<text x="594.90" y="194.00" font-size="11" text-anchor="middle" >10</text>
<text x="669.70" y="194.00" font-size="11" text-anchor="middle" >15</text>
<text x="505.60" y="212.60" font-size="11" transform="matrix(0.975,0,0,1,12.640,0)" >Polarization <tspan font-style="italic">P</tspan><tspan font-size="7.5" dy="2.5">3</tspan><tspan dy="-2.5"> (μC cm</tspan><tspan font-size="7.5" dy="-4">−2</tspan><tspan dy="4">)</tspan></text>
<g transform="translate(396.8,96.9) rotate(-90)">
<text x="0.00" y="0.00" font-size="11" text-anchor="middle" >ΔEnergy (eV f.u.<tspan font-size="7.5" dy="-4">−1</tspan><tspan dy="4">)</tspan></text>
</g>
<text x="492.80" y="33.00" font-size="11" ><tspan font-style="italic">c</tspan>-lattice parameter (Å)</text>
<line x1="491.00" y1="47.00" x2="520.60" y2="47.00" stroke="#4caf50" stroke-width="2.2" />
<line x1="491.00" y1="61.80" x2="520.60" y2="61.80" stroke="#e4132e" stroke-width="2.2" />
<line x1="559.30" y1="46.70" x2="588.60" y2="46.70" stroke="#111111" stroke-width="2.2" />
<line x1="559.30" y1="62.00" x2="588.60" y2="62.00" stroke="#2a4fa0" stroke-width="2.2" />
<line x1="559.30" y1="76.60" x2="588.60" y2="76.60" stroke="#3ab4d6" stroke-width="2.2" />
<text x="525.20" y="51.00" font-size="11" >13.62</text>
<text x="525.20" y="65.90" font-size="11" >13.35</text>
<text x="593.00" y="50.70" font-size="11" >13.09</text>
<text x="593.00" y="66.00" font-size="11" >12.83</text>
<text x="593.00" y="80.60" font-size="11" >12.57</text>
<path d="M445.40,17.60 L447.60,18.40 L449.90,20.90 L452.40,25.40 L454.70,31.20 L457.80,41.40 L459.80,51.00 L462.50,65.00 L465.30,80.00 L468.50,95.00 L471.20,105.00 L475.60,127.30 L480.10,145.20 L486.80,159.70 L495.20,163.60 L503.50,159.70 L513.00,147.80 L526.20,133.40 L543.00,119.60 L552.60,113.00 L564.30,105.40 L587.60,96.50 L610.00,91.70 L632.40,86.60 L651.30,73.80 L668.50,47.20 L679.60,17.20" fill="none" stroke="#4caf50" stroke-width="2.4" stroke-linejoin="round" stroke-linecap="round"/>
<path d="M445.40,17.60 L449.00,18.60 L452.60,20.90 L455.50,24.30 L458.10,28.80 L460.60,33.60 L462.90,38.70 L466.80,50.00 L470.50,60.00 L474.50,68.50 L478.30,75.30 L481.80,80.90 L486.30,87.50 L491.00,93.20 L496.00,98.80 L501.30,104.00 L507.50,109.30 L514.20,114.20 L526.20,120.80 L539.40,128.00 L552.60,134.60 L565.00,141.50 L585.00,152.20 L595.20,156.80 L609.50,160.90 L623.80,156.30 L635.60,137.90 L640.70,120.00 L647.50,100.20" fill="none" stroke="#3ab4d6" stroke-width="2.4" stroke-linejoin="round" stroke-linecap="round"/>
<path d="M445.40,17.60 L448.20,18.70 L451.00,21.00 L454.00,25.80 L456.80,31.20 L460.80,41.40 L463.70,50.00 L467.50,62.00 L471.30,72.00 L475.10,80.90 L479.70,93.20 L483.40,105.00 L489.00,115.00 L495.70,122.90 L503.50,129.00 L513.00,134.60 L526.20,138.80 L543.00,143.60 L565.00,150.20 L585.00,158.30 L596.20,162.90 L613.10,166.50 L628.90,160.90 L641.70,142.00 L649.40,120.00 L655.00,97.00 L659.90,78.00 L664.20,49.70" fill="none" stroke="#2a4fa0" stroke-width="2.4" stroke-linejoin="round" stroke-linecap="round"/>
<path d="M445.40,17.60 L447.80,18.50 L450.20,21.00 L452.80,25.50 L455.20,31.20 L458.40,41.40 L460.60,52.00 L463.60,65.00 L466.80,80.00 L470.30,95.00 L473.40,105.00 L477.90,121.70 L483.40,139.60 L490.70,151.90 L500.20,156.90 L506.90,154.10 L519.00,149.60 L539.40,141.20 L552.60,136.40 L565.00,134.00 L585.00,132.80 L612.60,133.10 L625.90,130.70 L637.10,126.10 L648.70,114.30 L659.50,95.80" fill="none" stroke="#e4132e" stroke-width="2.4" stroke-linejoin="round" stroke-linecap="round"/>
<path d="M445.40,17.60 L448.00,18.60 L450.50,21.00 L453.20,25.60 L455.80,31.20 L459.30,41.40 L461.70,52.00 L465.10,65.00 L469.00,80.00 L473.30,95.00 L477.30,105.00 L482.30,119.50 L489.60,134.60 L500.20,145.70 L509.40,147.80 L519.00,149.60 L533.40,147.80 L547.80,147.20 L567.00,149.30 L585.00,152.70 L595.20,155.30 L612.60,157.30 L623.80,155.30 L632.00,151.70 L642.20,143.00" fill="none" stroke="#111111" stroke-width="2.4" stroke-linejoin="round" stroke-linecap="round"/>
<path d="M447.4,245.4 H683.4 V362.1 H447.4 Z" fill="none" stroke="#9a9899" stroke-width="1.2"/>
<line x1="444.90" y1="358.25" x2="447.40" y2="358.25" stroke="#9a9899" stroke-width="1" />
<line x1="443.40" y1="345.70" x2="447.40" y2="345.70" stroke="#9a9899" stroke-width="1" />
<line x1="444.90" y1="333.15" x2="447.40" y2="333.15" stroke="#9a9899" stroke-width="1" />
<line x1="443.40" y1="320.60" x2="447.40" y2="320.60" stroke="#9a9899" stroke-width="1" />
<line x1="444.90" y1="308.05" x2="447.40" y2="308.05" stroke="#9a9899" stroke-width="1" />
<line x1="443.40" y1="295.50" x2="447.40" y2="295.50" stroke="#9a9899" stroke-width="1" />
<line x1="444.90" y1="282.95" x2="447.40" y2="282.95" stroke="#9a9899" stroke-width="1" />
<line x1="443.40" y1="270.40" x2="447.40" y2="270.40" stroke="#9a9899" stroke-width="1" />
<line x1="444.90" y1="257.85" x2="447.40" y2="257.85" stroke="#9a9899" stroke-width="1" />
<line x1="443.40" y1="245.30" x2="447.40" y2="245.30" stroke="#9a9899" stroke-width="1" />
<line x1="447.80" y1="362.10" x2="447.80" y2="366.10" stroke="#9a9899" stroke-width="1" />
<line x1="481.45" y1="362.10" x2="481.45" y2="364.60" stroke="#9a9899" stroke-width="1" />
<line x1="515.10" y1="362.10" x2="515.10" y2="366.10" stroke="#9a9899" stroke-width="1" />
<line x1="548.75" y1="362.10" x2="548.75" y2="364.60" stroke="#9a9899" stroke-width="1" />
<line x1="582.40" y1="362.10" x2="582.40" y2="366.10" stroke="#9a9899" stroke-width="1" />
<line x1="616.05" y1="362.10" x2="616.05" y2="364.60" stroke="#9a9899" stroke-width="1" />
<line x1="649.70" y1="362.10" x2="649.70" y2="366.10" stroke="#9a9899" stroke-width="1" />
<text x="438.80" y="249.30" font-size="11" text-anchor="end" >11.6</text>
<text x="438.80" y="274.40" font-size="11" text-anchor="end" >11.4</text>
<text x="438.80" y="299.50" font-size="11" text-anchor="end" >11.2</text>
<text x="438.80" y="324.60" font-size="11" text-anchor="end" >11.0</text>
<text x="438.80" y="349.70" font-size="11" text-anchor="end" >10.8</text>
<text x="447.80" y="380.20" font-size="11" text-anchor="middle" >−200</text>
<text x="515.10" y="380.20" font-size="11" text-anchor="middle" >−100</text>
<text x="582.40" y="380.20" font-size="11" text-anchor="middle" >0</text>
<text x="649.70" y="380.20" font-size="11" text-anchor="middle" >100</text>
<line x1="582.70" y1="245.40" x2="582.70" y2="333.50" stroke="#333" stroke-width="1.2" />
<line x1="582.70" y1="353.50" x2="582.70" y2="362.10" stroke="#333" stroke-width="1.2" />
<text x="542.00" y="397.30" font-size="11" ><tspan font-style="italic">T</tspan><tspan font-size="7.5" dy="2.5">33</tspan><tspan dy="-2.5"> (MPa)</tspan></text>
<circle cx="474.7" cy="309.8" r="4.2" fill="none" stroke="#1a1a1a" stroke-width="1.5"/>
<circle cx="494.0" cy="309.0" r="4.2" fill="none" stroke="#1a1a1a" stroke-width="1.5"/>
<circle cx="512.6" cy="308.7" r="4.2" fill="none" stroke="#1a1a1a" stroke-width="1.5"/>
<circle cx="531.8" cy="307.4" r="4.2" fill="none" stroke="#1a1a1a" stroke-width="1.5"/>
<circle cx="549.8" cy="306.3" r="4.2" fill="none" stroke="#1a1a1a" stroke-width="1.5"/>
<circle cx="569.4" cy="305.8" r="4.2" fill="none" stroke="#1a1a1a" stroke-width="1.5"/>
<circle cx="588.4" cy="304.7" r="4.2" fill="none" stroke="#1a1a1a" stroke-width="1.5"/>
<circle cx="607.0" cy="303.6" r="4.2" fill="none" stroke="#1a1a1a" stroke-width="1.5"/>
<circle cx="625.7" cy="303.1" r="4.2" fill="none" stroke="#1a1a1a" stroke-width="1.5"/>
<circle cx="645.0" cy="302.5" r="4.2" fill="none" stroke="#1a1a1a" stroke-width="1.5"/>
<circle cx="663.5" cy="301.3" r="4.2" fill="none" stroke="#1a1a1a" stroke-width="1.5"/>
<line x1="474.70" y1="310.10" x2="663.50" y2="301.40" stroke="#e4182f" stroke-width="3" />
<circle cx="479" cy="264.9" r="4.1" fill="none" stroke="#1a1a1a" stroke-width="1.5"/>
<text x="489.50" y="268.60" font-size="11" >+HP</text>
<text x="518.40" y="346.60" font-size="11" transform="matrix(0.99,0,0,1,5.184,0)" fill="#e4213a" ><tspan font-style="italic">d</tspan><tspan font-size="7.5" dy="2.5">333,HP</tspan><tspan dy="-2.5"> = 2.5 ± 0.7 pm V</tspan><tspan font-size="7.5" dy="-4">−1</tspan></text>
<g transform="translate(406.5,303.0) rotate(-90)">
<text x="0.00" y="0.00" font-size="11" text-anchor="middle" ><tspan font-style="italic">P</tspan><tspan font-size="7.5" dy="2.5">3</tspan><tspan dy="-2.5"> (μC cm</tspan><tspan font-size="7.5" dy="-4">−2</tspan><tspan dy="4">)</tspan></text>
</g>
<path d="M447.4,426.0 H683.3 V543.3 H447.4 Z" fill="none" stroke="#9a9899" stroke-width="1.2"/>
<line x1="443.40" y1="542.70" x2="447.40" y2="542.70" stroke="#9a9899" stroke-width="1" />
<line x1="444.90" y1="513.45" x2="447.40" y2="513.45" stroke="#9a9899" stroke-width="1" />
<line x1="443.40" y1="484.20" x2="447.40" y2="484.20" stroke="#9a9899" stroke-width="1" />
<line x1="444.90" y1="454.95" x2="447.40" y2="454.95" stroke="#9a9899" stroke-width="1" />
<line x1="443.40" y1="425.70" x2="447.40" y2="425.70" stroke="#9a9899" stroke-width="1" />
<line x1="463.16" y1="543.30" x2="463.16" y2="547.30" stroke="#9a9899" stroke-width="1" />
<line x1="494.73" y1="543.30" x2="494.73" y2="545.80" stroke="#9a9899" stroke-width="1" />
<line x1="526.30" y1="543.30" x2="526.30" y2="547.30" stroke="#9a9899" stroke-width="1" />
<line x1="557.87" y1="543.30" x2="557.87" y2="545.80" stroke="#9a9899" stroke-width="1" />
<line x1="589.44" y1="543.30" x2="589.44" y2="547.30" stroke="#9a9899" stroke-width="1" />
<line x1="621.01" y1="543.30" x2="621.01" y2="545.80" stroke="#9a9899" stroke-width="1" />
<line x1="652.58" y1="543.30" x2="652.58" y2="547.30" stroke="#9a9899" stroke-width="1" />
<text x="438.80" y="429.70" font-size="11" text-anchor="end" >5.1</text>
<text x="438.80" y="488.20" font-size="11" text-anchor="end" >5.0</text>
<text x="438.80" y="546.70" font-size="11" text-anchor="end" >4.9</text>
<text x="463.16" y="560.50" font-size="11" text-anchor="middle" >−20</text>
<text x="526.30" y="560.50" font-size="11" text-anchor="middle" >0</text>
<text x="589.44" y="560.50" font-size="11" text-anchor="middle" >20</text>
<text x="652.58" y="560.50" font-size="11" text-anchor="middle" >40</text>
<line x1="526.30" y1="426.00" x2="526.30" y2="513.50" stroke="#555" stroke-width="1.2" />
<line x1="526.30" y1="531.00" x2="526.30" y2="543.30" stroke="#555" stroke-width="1.2" />
<text x="542.00" y="577.60" font-size="11" ><tspan font-style="italic">T</tspan><tspan font-size="7.5" dy="2.5">33</tspan><tspan dy="-2.5"> (MPa)</tspan></text>
<rect x="464.70" y="454.50" width="8.2" height="8.2" fill="#231f20"/>
<rect x="483.20" y="461.70" width="8.2" height="8.2" fill="#231f20"/>
<rect x="501.80" y="469.90" width="8.2" height="8.2" fill="#231f20"/>
<rect x="529.60" y="472.40" width="8.2" height="8.2" fill="#231f20"/>
<rect x="545.30" y="482.10" width="8.2" height="8.2" fill="#231f20"/>
<rect x="570.10" y="488.80" width="8.2" height="8.2" fill="#231f20"/>
<rect x="590.60" y="496.00" width="8.2" height="8.2" fill="#231f20"/>
<rect x="614.70" y="500.30" width="8.2" height="8.2" fill="#231f20"/>
<rect x="640.50" y="504.40" width="8.2" height="8.2" fill="#231f20"/>
<rect x="657.60" y="512.40" width="8.2" height="8.2" fill="#231f20"/>
<line x1="467.60" y1="460.20" x2="664.50" y2="517.70" stroke="#e4182f" stroke-width="3" />
<rect x="607" y="437.1" width="8" height="8" fill="#231f20"/>
<text x="620.50" y="445.00" font-size="11" >+ LP</text>
<text x="472.00" y="527.60" font-size="11" transform="matrix(0.99,0,0,1,4.720,0)" fill="#e4213a" ><tspan font-style="italic">d</tspan><tspan font-size="7.5" dy="2.5">333,LP</tspan><tspan dy="-2.5"> = −15.6 ± 0.6 pm V</tspan><tspan font-size="7.5" dy="-4">−1</tspan></text>
<g transform="translate(413.5,484.5) rotate(-90)">
<text x="0.00" y="0.00" font-size="11" text-anchor="middle" ><tspan font-style="italic">P</tspan><tspan font-size="7.5" dy="2.5">3</tspan><tspan dy="-2.5"> (μC cm</tspan><tspan font-size="7.5" dy="-4">−2</tspan><tspan dy="4">)</tspan></text>
</g>
<path d="M100.1,386.3 H341.0 V545.2 H100.1 Z" fill="none" stroke="#9a9899" stroke-width="1.2"/>
<line x1="97.10" y1="402.40" x2="100.10" y2="402.40" stroke="#9a9899" stroke-width="1" />
<line x1="98.10" y1="418.10" x2="100.10" y2="418.10" stroke="#9a9899" stroke-width="1" />
<line x1="97.10" y1="433.80" x2="100.10" y2="433.80" stroke="#9a9899" stroke-width="1" />
<line x1="98.10" y1="449.50" x2="100.10" y2="449.50" stroke="#9a9899" stroke-width="1" />
<line x1="97.10" y1="465.20" x2="100.10" y2="465.20" stroke="#9a9899" stroke-width="1" />
<line x1="98.10" y1="480.90" x2="100.10" y2="480.90" stroke="#9a9899" stroke-width="1" />
<line x1="97.10" y1="496.60" x2="100.10" y2="496.60" stroke="#9a9899" stroke-width="1" />
<line x1="98.10" y1="512.30" x2="100.10" y2="512.30" stroke="#9a9899" stroke-width="1" />
<line x1="97.10" y1="528.00" x2="100.10" y2="528.00" stroke="#9a9899" stroke-width="1" />
<line x1="108.39" y1="545.20" x2="108.39" y2="549.20" stroke="#9a9899" stroke-width="1" />
<line x1="127.14" y1="545.20" x2="127.14" y2="547.70" stroke="#9a9899" stroke-width="1" />
<line x1="145.88" y1="545.20" x2="145.88" y2="549.20" stroke="#9a9899" stroke-width="1" />
<line x1="164.62" y1="545.20" x2="164.62" y2="547.70" stroke="#9a9899" stroke-width="1" />
<line x1="183.37" y1="545.20" x2="183.37" y2="549.20" stroke="#9a9899" stroke-width="1" />
<line x1="202.11" y1="545.20" x2="202.11" y2="547.70" stroke="#9a9899" stroke-width="1" />
<line x1="220.85" y1="545.20" x2="220.85" y2="549.20" stroke="#9a9899" stroke-width="1" />
<line x1="239.59" y1="545.20" x2="239.59" y2="547.70" stroke="#9a9899" stroke-width="1" />
<line x1="258.33" y1="545.20" x2="258.33" y2="549.20" stroke="#9a9899" stroke-width="1" />
<line x1="277.08" y1="545.20" x2="277.08" y2="547.70" stroke="#9a9899" stroke-width="1" />
<line x1="295.82" y1="545.20" x2="295.82" y2="549.20" stroke="#9a9899" stroke-width="1" />
<line x1="314.56" y1="545.20" x2="314.56" y2="547.70" stroke="#9a9899" stroke-width="1" />
<line x1="333.31" y1="545.20" x2="333.31" y2="549.20" stroke="#9a9899" stroke-width="1" />
<text x="92.00" y="406.40" font-size="11" text-anchor="end" >0.00</text>
<text x="92.00" y="437.80" font-size="11" text-anchor="end" >−0.04</text>
<text x="92.00" y="469.20" font-size="11" text-anchor="end" >−0.08</text>
<text x="92.00" y="500.60" font-size="11" text-anchor="end" >−0.12</text>
<text x="92.00" y="532.00" font-size="11" text-anchor="end" >−0.16</text>
<text x="108.39" y="562.70" font-size="11" text-anchor="middle" >−15</text>
<text x="145.88" y="562.70" font-size="11" text-anchor="middle" >−10</text>
<text x="183.37" y="562.70" font-size="11" text-anchor="middle" >−5</text>
<text x="220.85" y="562.70" font-size="11" text-anchor="middle" >0</text>
<text x="258.33" y="562.70" font-size="11" text-anchor="middle" >5</text>
<text x="295.82" y="562.70" font-size="11" text-anchor="middle" >10</text>
<text x="333.31" y="562.70" font-size="11" text-anchor="middle" >15</text>
<line x1="220.90" y1="386.30" x2="220.90" y2="545.20" stroke="#b0b0b0" stroke-width="1" />
<text x="161.20" y="580.00" font-size="11" transform="matrix(0.985,0,0,1,2.418,0)" >Polarization <tspan font-style="italic">P</tspan><tspan font-size="7.5" dy="2.5">3</tspan><tspan dy="-2.5"> (μC cm</tspan><tspan font-size="7.5" dy="-4">−2</tspan><tspan dy="4">)</tspan></text>
<g transform="translate(55.6,465.2) rotate(-90)">
<text x="0.00" y="0.00" font-size="11" text-anchor="middle" >ΔEnergy (eV f.u.<tspan font-size="7.5" dy="-4">−1</tspan><tspan dy="4">)</tspan></text>
</g>
<text x="110.00" y="406.40" font-size="11" ><tspan font-style="italic">c</tspan> = 13.09 Å</text>
<path d="M121.89,514.80 C122.89,516.08 125.51,520.37 127.89,522.50 C130.26,524.63 133.01,527.20 136.13,527.60 C139.26,528.00 143.01,526.07 146.63,524.90 C150.25,523.73 154.13,521.62 157.88,520.60 C161.62,519.58 165.25,518.97 169.12,518.80 C172.99,518.63 178.29,519.33 181.12,519.60 C183.94,519.87 184.23,521.18 186.06,520.40 C187.90,519.62 190.11,517.82 192.14,514.90 C194.16,511.98 196.20,508.90 198.21,502.90 C200.22,496.90 202.39,487.32 204.21,478.90 C206.02,470.48 207.47,461.22 209.08,452.40 C210.69,443.58 212.47,433.20 213.88,426.00 C215.29,418.80 216.39,413.12 217.55,409.20 C218.71,405.28 219.75,402.50 220.85,402.50 C221.95,402.50 222.99,405.28 224.15,409.20 C225.31,413.12 226.41,418.80 227.82,426.00 C229.23,433.20 231.01,443.58 232.62,452.40 C234.23,461.22 235.68,470.48 237.49,478.90 C239.31,487.32 241.48,496.90 243.49,502.90 C245.50,508.90 247.54,511.98 249.56,514.90 C251.59,517.82 253.80,519.62 255.64,520.40 C257.47,521.18 257.76,519.87 260.58,519.60 C263.41,519.33 268.71,518.63 272.58,518.80 C276.45,518.97 280.08,519.58 283.82,520.60 C287.57,521.62 291.45,523.73 295.07,524.90 C298.69,526.07 302.44,528.00 305.57,527.60 C308.69,527.20 311.44,524.63 313.81,522.50 C316.19,520.37 318.81,516.08 319.81,514.80" fill="none" stroke="#111" stroke-width="2.4" stroke-linejoin="round"/>
<line x1="137.00" y1="484.90" x2="137.00" y2="515.80" stroke="#111" stroke-width="2" />
<polygon points="133.00,514.80 141.00,514.80 137.00,522.30" fill="#111"/>
<line x1="186.20" y1="480.80" x2="186.20" y2="511.10" stroke="#111" stroke-width="2" />
<polygon points="182.20,510.10 190.20,510.10 186.20,517.60" fill="#111"/>
<line x1="257.50" y1="480.80" x2="257.50" y2="511.10" stroke="#111" stroke-width="2" />
<polygon points="253.50,510.10 261.50,510.10 257.50,517.60" fill="#111"/>
<line x1="304.60" y1="486.20" x2="304.60" y2="516.30" stroke="#111" stroke-width="2" />
<polygon points="300.60,515.30 308.60,515.30 304.60,522.80" fill="#111"/>
<text x="134.30" y="482.10" font-size="11" text-anchor="middle" >−HP</text>
<text x="186.60" y="478.00" font-size="11" text-anchor="middle" >−LP</text>
<text x="256.60" y="477.60" font-size="11" text-anchor="middle" >+LP</text>
<text x="303.00" y="484.00" font-size="11" text-anchor="middle" >+HP</text>
</svg>
</body></html>
